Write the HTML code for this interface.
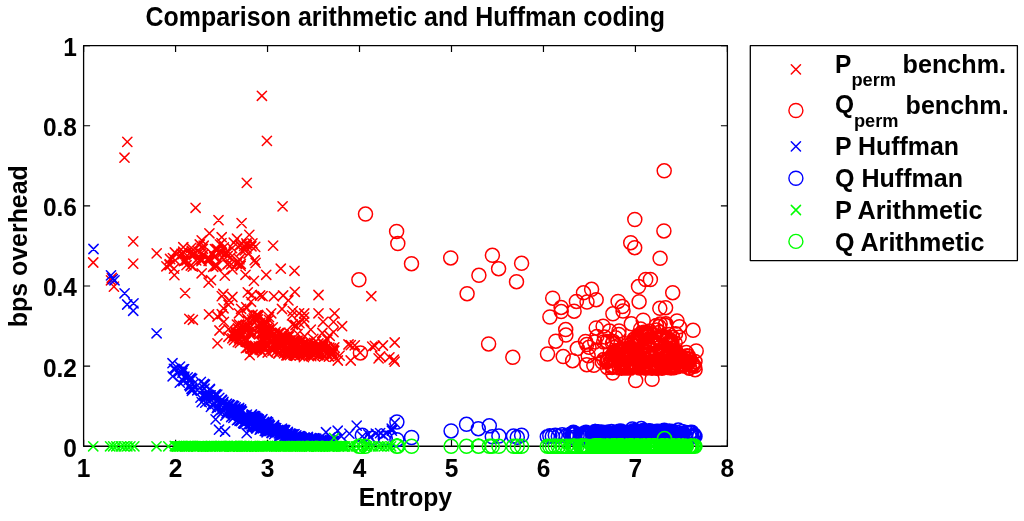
<!DOCTYPE html>
<html><head><meta charset="utf-8"><title>Comparison arithmetic and Huffman coding</title>
<style>html,body{margin:0;padding:0;background:#fff;overflow:hidden}svg{display:block}
text{font-family:'Liberation Sans',Arial,Helvetica,sans-serif;font-weight:bold;font-size:24.5px;fill:#000}</style></head>
<body><svg width="1024" height="521" viewBox="0 0 1024 521">
<rect width="1024" height="521" fill="#fff"/>
<rect x="83.6" y="45.6" width="643.80" height="400.65" fill="none" stroke="#000" stroke-width="1.3" stroke-linejoin="round"/>
<path d="M83.60 446.25V439.75M83.60 45.6V52.1M175.57 446.25V439.75M175.57 45.6V52.1M267.54 446.25V439.75M267.54 45.6V52.1M359.51 446.25V439.75M359.51 45.6V52.1M451.49 446.25V439.75M451.49 45.6V52.1M543.46 446.25V439.75M543.46 45.6V52.1M635.43 446.25V439.75M635.43 45.6V52.1M727.40 446.25V439.75M727.40 45.6V52.1M83.6 446.25H90.1M727.4 446.25H720.9M83.6 366.12H90.1M727.4 366.12H720.9M83.6 285.99H90.1M727.4 285.99H720.9M83.6 205.86H90.1M727.4 205.86H720.9M83.6 125.73H90.1M727.4 125.73H720.9M83.6 45.60H90.1M727.4 45.60H720.9" stroke="#000" stroke-width="1.2" fill="none"/>
<text transform="matrix(1 0 0 1.08 0 -38.16)" x="83.60" y="477.0" text-anchor="middle">1</text>
<text transform="matrix(1 0 0 1.08 0 -38.16)" x="175.57" y="477.0" text-anchor="middle">2</text>
<text transform="matrix(1 0 0 1.08 0 -38.16)" x="267.54" y="477.0" text-anchor="middle">3</text>
<text transform="matrix(1 0 0 1.08 0 -38.16)" x="359.51" y="477.0" text-anchor="middle">4</text>
<text transform="matrix(1 0 0 1.08 0 -38.16)" x="451.49" y="477.0" text-anchor="middle">5</text>
<text transform="matrix(1 0 0 1.08 0 -38.16)" x="543.46" y="477.0" text-anchor="middle">6</text>
<text transform="matrix(1 0 0 1.08 0 -38.16)" x="635.43" y="477.0" text-anchor="middle">7</text>
<text transform="matrix(1 0 0 1.08 0 -38.16)" x="727.40" y="477.0" text-anchor="middle">8</text>
<text transform="matrix(1 0 0 1.08 0 -36.53)" x="77.0" y="456.65" text-anchor="end">0</text>
<text transform="matrix(1 0 0 1.08 0 -30.12)" x="77.0" y="376.52" text-anchor="end">0.2</text>
<text transform="matrix(1 0 0 1.08 0 -23.71)" x="77.0" y="296.39" text-anchor="end">0.4</text>
<text transform="matrix(1 0 0 1.08 0 -17.30)" x="77.0" y="216.26" text-anchor="end">0.6</text>
<text transform="matrix(1 0 0 1.08 0 -10.89)" x="77.0" y="136.13" text-anchor="end">0.8</text>
<text transform="matrix(1 0 0 1.08 0 -4.48)" x="77.0" y="56.0" text-anchor="end">1</text>
<text transform="matrix(1 0 0 1.11 0 -2.82)" x="405.3" y="25.6" text-anchor="middle" textLength="519.5" lengthAdjust="spacingAndGlyphs">Comparison arithmetic and Huffman coding</text>
<text transform="matrix(1 0 0 1.08 0 -40.46)" x="405.4" y="505.7" text-anchor="middle" textLength="93.5" lengthAdjust="spacingAndGlyphs">Entropy</text>
<text transform="translate(26.5 246.2) rotate(-90) scale(1 1.08)" text-anchor="middle" textLength="162" lengthAdjust="spacingAndGlyphs">bps overhead</text>
<rect x="750.3" y="45.7" width="267.1" height="214.9" fill="#fff" stroke="#000" stroke-width="1.3" stroke-linejoin="round"/>
<path d="M791.3 64.8L800.5 74.0M791.3 74.0L800.5 64.8" stroke="#f00" stroke-width="1.5" stroke-linecap="round" fill="none"/>
<circle cx="795.9" cy="110.5" r="7.0" stroke="#f00" stroke-width="1.4" fill="none"/>
<path d="M791.3 141.8L800.5 151.0M791.3 151.0L800.5 141.8" stroke="#00f" stroke-width="1.5" stroke-linecap="round" fill="none"/>
<circle cx="795.9" cy="178.3" r="7.0" stroke="#00f" stroke-width="1.4" fill="none"/>
<path d="M791.3 205.4L800.5 214.6M791.3 214.6L800.5 205.4" stroke="#0f0" stroke-width="1.5" stroke-linecap="round" fill="none"/>
<circle cx="795.9" cy="241.4" r="7.0" stroke="#0f0" stroke-width="1.4" fill="none"/>
<text transform="matrix(1 0 0 1.08 0 -5.86)" x="835.0" y="73.3">P</text><text transform="matrix(1 0 0 1.08 0 -6.85)" x="851.4" y="85.6" textLength="44.6" lengthAdjust="spacingAndGlyphs" style="font-size:17.5px">perm</text><text transform="matrix(1 0 0 1.08 0 -5.81)" x="902.6" y="72.6" textLength="103.5" lengthAdjust="spacingAndGlyphs">benchm.</text>
<text transform="matrix(1 0 0 1.08 0 -9.08)" x="835.0" y="113.5">Q</text><text transform="matrix(1 0 0 1.08 0 -10.16)" x="853.9" y="127.0" textLength="44.6" lengthAdjust="spacingAndGlyphs" style="font-size:17.5px">perm</text><text transform="matrix(1 0 0 1.08 0 -9.13)" x="905.6" y="114.1" textLength="103" lengthAdjust="spacingAndGlyphs">benchm.</text>
<text transform="matrix(1 0 0 1.08 0 -12.42)" x="835.0" y="155.3" textLength="124" lengthAdjust="spacingAndGlyphs">P Huffman</text>
<text transform="matrix(1 0 0 1.08 0 -14.96)" x="835.0" y="187" textLength="128" lengthAdjust="spacingAndGlyphs">Q Huffman</text>
<text transform="matrix(1 0 0 1.08 0 -17.55)" x="835.0" y="219.4" textLength="147.5" lengthAdjust="spacingAndGlyphs">P Arithmetic</text>
<text transform="matrix(1 0 0 1.08 0 -20.05)" x="835.0" y="250.6" textLength="149.5" lengthAdjust="spacingAndGlyphs">Q Arithmetic</text>
<path d="M257.3 91.2l9.2 9.2m0 -9.2l-9.2 9.2M122.7 137.3l9.2 9.2m0 -9.2l-9.2 9.2M119.9 153.1l9.2 9.2m0 -9.2l-9.2 9.2M262.3 136.3l9.2 9.2m0 -9.2l-9.2 9.2M242.2 178.3l9.2 9.2m0 -9.2l-9.2 9.2M191.0 203.2l9.2 9.2m0 -9.2l-9.2 9.2M213.9 215.5l9.2 9.2m0 -9.2l-9.2 9.2M237.0 218.5l9.2 9.2m0 -9.2l-9.2 9.2M278.0 201.8l9.2 9.2m0 -9.2l-9.2 9.2M88.6 257.9l9.2 9.2m0 -9.2l-9.2 9.2M128.6 236.8l9.2 9.2m0 -9.2l-9.2 9.2M128.6 259.0l9.2 9.2m0 -9.2l-9.2 9.2M152.1 248.8l9.2 9.2m0 -9.2l-9.2 9.2M106.4 275.7l9.2 9.2m0 -9.2l-9.2 9.2M109.3 282.0l9.2 9.2m0 -9.2l-9.2 9.2M107.2 273.2l9.2 9.2m0 -9.2l-9.2 9.2M169.8 270.5l9.2 9.2m0 -9.2l-9.2 9.2M180.5 288.5l9.2 9.2m0 -9.2l-9.2 9.2M188.3 315.2l9.2 9.2m0 -9.2l-9.2 9.2M204.4 309.7l9.2 9.2m0 -9.2l-9.2 9.2M204.0 278.0l9.2 9.2m0 -9.2l-9.2 9.2M184.7 314.2l9.2 9.2m0 -9.2l-9.2 9.2M204.8 228.7l9.2 9.2m0 -9.2l-9.2 9.2M244.7 230.3l9.2 9.2m0 -9.2l-9.2 9.2M268.5 241.0l9.2 9.2m0 -9.2l-9.2 9.2M178.7 242.6l9.2 9.2m0 -9.2l-9.2 9.2M170.3 247.9l9.2 9.2m0 -9.2l-9.2 9.2M164.9 260.2l9.2 9.2m0 -9.2l-9.2 9.2M197.1 268.7l9.2 9.2m0 -9.2l-9.2 9.2M206.4 275.6l9.2 9.2m0 -9.2l-9.2 9.2M220.2 271.0l9.2 9.2m0 -9.2l-9.2 9.2M240.9 270.2l9.2 9.2m0 -9.2l-9.2 9.2M249.3 276.3l9.2 9.2m0 -9.2l-9.2 9.2M261.6 270.2l9.2 9.2m0 -9.2l-9.2 9.2M276.2 264.1l9.2 9.2m0 -9.2l-9.2 9.2M250.1 255.6l9.2 9.2m0 -9.2l-9.2 9.2M247.8 238.7l9.2 9.2m0 -9.2l-9.2 9.2M232.4 234.1l9.2 9.2m0 -9.2l-9.2 9.2M217.1 232.6l9.2 9.2m0 -9.2l-9.2 9.2M197.1 235.7l9.2 9.2m0 -9.2l-9.2 9.2M187.2 246.4l9.2 9.2m0 -9.2l-9.2 9.2M175.7 251.0l9.2 9.2m0 -9.2l-9.2 9.2M161.8 261.7l9.2 9.2m0 -9.2l-9.2 9.2M227.8 264.8l9.2 9.2m0 -9.2l-9.2 9.2M211.0 261.7l9.2 9.2m0 -9.2l-9.2 9.2M289.9 266.2l9.2 9.2m0 -9.2l-9.2 9.2M218.7 289.4l9.2 9.2m0 -9.2l-9.2 9.2M227.8 292.4l9.2 9.2m0 -9.2l-9.2 9.2M243.2 287.8l9.2 9.2m0 -9.2l-9.2 9.2M255.5 290.9l9.2 9.2m0 -9.2l-9.2 9.2M269.3 291.7l9.2 9.2m0 -9.2l-9.2 9.2M278.5 290.9l9.2 9.2m0 -9.2l-9.2 9.2M217.2 291.5l9.2 9.2m0 -9.2l-9.2 9.2M247.3 290.4l9.2 9.2m0 -9.2l-9.2 9.2M258.0 291.5l9.2 9.2m0 -9.2l-9.2 9.2M283.8 295.8l9.2 9.2m0 -9.2l-9.2 9.2M290.2 287.2l9.2 9.2m0 -9.2l-9.2 9.2M313.9 290.4l9.2 9.2m0 -9.2l-9.2 9.2M366.7 291.6l9.2 9.2m0 -9.2l-9.2 9.2M212.9 311.9l9.2 9.2m0 -9.2l-9.2 9.2M219.3 317.3l9.2 9.2m0 -9.2l-9.2 9.2M234.4 308.7l9.2 9.2m0 -9.2l-9.2 9.2M266.6 308.7l9.2 9.2m0 -9.2l-9.2 9.2M277.4 304.4l9.2 9.2m0 -9.2l-9.2 9.2M288.1 306.5l9.2 9.2m0 -9.2l-9.2 9.2M294.5 308.7l9.2 9.2m0 -9.2l-9.2 9.2M313.9 308.7l9.2 9.2m0 -9.2l-9.2 9.2M330.0 308.7l9.2 9.2m0 -9.2l-9.2 9.2M337.5 321.6l9.2 9.2m0 -9.2l-9.2 9.2M328.9 317.3l9.2 9.2m0 -9.2l-9.2 9.2M299.5 317.2l9.2 9.2m0 -9.2l-9.2 9.2M318.5 317.2l9.2 9.2m0 -9.2l-9.2 9.2M328.9 327.5l9.2 9.2m0 -9.2l-9.2 9.2M317.7 328.4l9.2 9.2m0 -9.2l-9.2 9.2M212.9 338.8l9.2 9.2m0 -9.2l-9.2 9.2M245.1 350.6l9.2 9.2m0 -9.2l-9.2 9.2M355.5 348.1l9.2 9.2m0 -9.2l-9.2 9.2M350.2 340.7l9.2 9.2m0 -9.2l-9.2 9.2M343.9 339.9l9.2 9.2m0 -9.2l-9.2 9.2M346.2 340.5l9.2 9.2m0 -9.2l-9.2 9.2M367.6 342.0l9.2 9.2m0 -9.2l-9.2 9.2M370.3 341.3l9.2 9.2m0 -9.2l-9.2 9.2M378.3 340.9l9.2 9.2m0 -9.2l-9.2 9.2M390.1 337.9l9.2 9.2m0 -9.2l-9.2 9.2M346.1 355.9l9.2 9.2m0 -9.2l-9.2 9.2M374.0 353.8l9.2 9.2m0 -9.2l-9.2 9.2M384.8 352.7l9.2 9.2m0 -9.2l-9.2 9.2M390.1 357.0l9.2 9.2m0 -9.2l-9.2 9.2M333.2 355.9l9.2 9.2m0 -9.2l-9.2 9.2M375.5 351.7l9.2 9.2m0 -9.2l-9.2 9.2M389.3 355.1l9.2 9.2m0 -9.2l-9.2 9.2M168.3 253.5l9.2 9.2m0 -9.2l-9.2 9.2M171.9 249.8l9.2 9.2m0 -9.2l-9.2 9.2M170.6 255.7l9.2 9.2m0 -9.2l-9.2 9.2M165.3 260.5l9.2 9.2m0 -9.2l-9.2 9.2M165.1 259.6l9.2 9.2m0 -9.2l-9.2 9.2M165.5 254.4l9.2 9.2m0 -9.2l-9.2 9.2M169.4 264.0l9.2 9.2m0 -9.2l-9.2 9.2M178.2 249.4l9.2 9.2m0 -9.2l-9.2 9.2M188.2 262.0l9.2 9.2m0 -9.2l-9.2 9.2M187.2 250.3l9.2 9.2m0 -9.2l-9.2 9.2M195.2 239.9l9.2 9.2m0 -9.2l-9.2 9.2M192.9 246.2l9.2 9.2m0 -9.2l-9.2 9.2M178.6 247.1l9.2 9.2m0 -9.2l-9.2 9.2M181.9 260.6l9.2 9.2m0 -9.2l-9.2 9.2M179.3 256.4l9.2 9.2m0 -9.2l-9.2 9.2M188.5 249.4l9.2 9.2m0 -9.2l-9.2 9.2M186.7 243.2l9.2 9.2m0 -9.2l-9.2 9.2M176.9 249.4l9.2 9.2m0 -9.2l-9.2 9.2M189.3 250.4l9.2 9.2m0 -9.2l-9.2 9.2M182.0 255.8l9.2 9.2m0 -9.2l-9.2 9.2M184.8 248.9l9.2 9.2m0 -9.2l-9.2 9.2M191.6 255.8l9.2 9.2m0 -9.2l-9.2 9.2M180.6 255.9l9.2 9.2m0 -9.2l-9.2 9.2M186.2 260.9l9.2 9.2m0 -9.2l-9.2 9.2M210.3 244.5l9.2 9.2m0 -9.2l-9.2 9.2M215.3 239.8l9.2 9.2m0 -9.2l-9.2 9.2M204.1 256.2l9.2 9.2m0 -9.2l-9.2 9.2M198.7 249.9l9.2 9.2m0 -9.2l-9.2 9.2M196.5 254.1l9.2 9.2m0 -9.2l-9.2 9.2M211.0 251.7l9.2 9.2m0 -9.2l-9.2 9.2M213.2 245.0l9.2 9.2m0 -9.2l-9.2 9.2M209.6 252.2l9.2 9.2m0 -9.2l-9.2 9.2M207.3 248.8l9.2 9.2m0 -9.2l-9.2 9.2M212.5 261.1l9.2 9.2m0 -9.2l-9.2 9.2M205.2 254.0l9.2 9.2m0 -9.2l-9.2 9.2M196.9 254.8l9.2 9.2m0 -9.2l-9.2 9.2M208.6 262.2l9.2 9.2m0 -9.2l-9.2 9.2M212.1 244.3l9.2 9.2m0 -9.2l-9.2 9.2M203.4 254.1l9.2 9.2m0 -9.2l-9.2 9.2M196.2 249.3l9.2 9.2m0 -9.2l-9.2 9.2M199.1 241.1l9.2 9.2m0 -9.2l-9.2 9.2M196.9 256.4l9.2 9.2m0 -9.2l-9.2 9.2M198.3 244.2l9.2 9.2m0 -9.2l-9.2 9.2M223.5 259.4l9.2 9.2m0 -9.2l-9.2 9.2M217.3 248.4l9.2 9.2m0 -9.2l-9.2 9.2M226.7 259.7l9.2 9.2m0 -9.2l-9.2 9.2M232.1 259.2l9.2 9.2m0 -9.2l-9.2 9.2M221.3 247.5l9.2 9.2m0 -9.2l-9.2 9.2M222.9 259.7l9.2 9.2m0 -9.2l-9.2 9.2M234.9 240.6l9.2 9.2m0 -9.2l-9.2 9.2M219.2 242.7l9.2 9.2m0 -9.2l-9.2 9.2M220.4 249.3l9.2 9.2m0 -9.2l-9.2 9.2M227.5 243.5l9.2 9.2m0 -9.2l-9.2 9.2M215.8 247.6l9.2 9.2m0 -9.2l-9.2 9.2M223.1 251.4l9.2 9.2m0 -9.2l-9.2 9.2M234.8 254.7l9.2 9.2m0 -9.2l-9.2 9.2M226.0 252.8l9.2 9.2m0 -9.2l-9.2 9.2M229.2 238.1l9.2 9.2m0 -9.2l-9.2 9.2M233.7 257.0l9.2 9.2m0 -9.2l-9.2 9.2M233.2 257.4l9.2 9.2m0 -9.2l-9.2 9.2M223.5 247.1l9.2 9.2m0 -9.2l-9.2 9.2M217.8 253.2l9.2 9.2m0 -9.2l-9.2 9.2M216.9 238.5l9.2 9.2m0 -9.2l-9.2 9.2M239.5 241.3l9.2 9.2m0 -9.2l-9.2 9.2M241.8 238.9l9.2 9.2m0 -9.2l-9.2 9.2M235.7 240.6l9.2 9.2m0 -9.2l-9.2 9.2M237.5 246.2l9.2 9.2m0 -9.2l-9.2 9.2M236.2 259.3l9.2 9.2m0 -9.2l-9.2 9.2M246.8 241.7l9.2 9.2m0 -9.2l-9.2 9.2M240.2 245.8l9.2 9.2m0 -9.2l-9.2 9.2M242.3 240.6l9.2 9.2m0 -9.2l-9.2 9.2M251.0 258.3l9.2 9.2m0 -9.2l-9.2 9.2M244.1 248.9l9.2 9.2m0 -9.2l-9.2 9.2M237.2 239.5l9.2 9.2m0 -9.2l-9.2 9.2M241.9 243.9l9.2 9.2m0 -9.2l-9.2 9.2M250.6 242.3l9.2 9.2m0 -9.2l-9.2 9.2M236.1 261.3l9.2 9.2m0 -9.2l-9.2 9.2M223.9 300.3l9.2 9.2m0 -9.2l-9.2 9.2M224.3 295.7l9.2 9.2m0 -9.2l-9.2 9.2M223.9 332.2l9.2 9.2m0 -9.2l-9.2 9.2M232.3 320.0l9.2 9.2m0 -9.2l-9.2 9.2M217.2 309.6l9.2 9.2m0 -9.2l-9.2 9.2M214.9 325.9l9.2 9.2m0 -9.2l-9.2 9.2M224.0 324.6l9.2 9.2m0 -9.2l-9.2 9.2M218.9 303.7l9.2 9.2m0 -9.2l-9.2 9.2M260.0 332.6l9.2 9.2m0 -9.2l-9.2 9.2M261.3 326.7l9.2 9.2m0 -9.2l-9.2 9.2M260.2 324.4l9.2 9.2m0 -9.2l-9.2 9.2M242.5 314.0l9.2 9.2m0 -9.2l-9.2 9.2M246.4 297.2l9.2 9.2m0 -9.2l-9.2 9.2M236.5 304.2l9.2 9.2m0 -9.2l-9.2 9.2M243.5 320.4l9.2 9.2m0 -9.2l-9.2 9.2M264.4 315.2l9.2 9.2m0 -9.2l-9.2 9.2M263.8 333.1l9.2 9.2m0 -9.2l-9.2 9.2M264.4 312.5l9.2 9.2m0 -9.2l-9.2 9.2M242.3 303.4l9.2 9.2m0 -9.2l-9.2 9.2M241.6 302.5l9.2 9.2m0 -9.2l-9.2 9.2M284.4 332.0l9.2 9.2m0 -9.2l-9.2 9.2M290.9 320.4l9.2 9.2m0 -9.2l-9.2 9.2M285.3 329.0l9.2 9.2m0 -9.2l-9.2 9.2M268.2 322.8l9.2 9.2m0 -9.2l-9.2 9.2M293.0 329.3l9.2 9.2m0 -9.2l-9.2 9.2M288.2 319.9l9.2 9.2m0 -9.2l-9.2 9.2M271.1 327.3l9.2 9.2m0 -9.2l-9.2 9.2M275.7 328.1l9.2 9.2m0 -9.2l-9.2 9.2M294.8 318.6l9.2 9.2m0 -9.2l-9.2 9.2M277.7 332.9l9.2 9.2m0 -9.2l-9.2 9.2M287.4 310.8l9.2 9.2m0 -9.2l-9.2 9.2M299.5 312.7l9.2 9.2m0 -9.2l-9.2 9.2M322.8 335.0l9.2 9.2m0 -9.2l-9.2 9.2M300.1 331.6l9.2 9.2m0 -9.2l-9.2 9.2M325.1 331.3l9.2 9.2m0 -9.2l-9.2 9.2M306.2 325.0l9.2 9.2m0 -9.2l-9.2 9.2M299.6 308.9l9.2 9.2m0 -9.2l-9.2 9.2M324.8 331.1l9.2 9.2m0 -9.2l-9.2 9.2M311.5 336.5l9.2 9.2m0 -9.2l-9.2 9.2M308.7 334.3l9.2 9.2m0 -9.2l-9.2 9.2M238.4 321.4l9.2 9.2m0 -9.2l-9.2 9.2M231.0 327.1l9.2 9.2m0 -9.2l-9.2 9.2M230.8 331.5l9.2 9.2m0 -9.2l-9.2 9.2M231.1 329.0l9.2 9.2m0 -9.2l-9.2 9.2M229.4 335.6l9.2 9.2m0 -9.2l-9.2 9.2M232.3 329.3l9.2 9.2m0 -9.2l-9.2 9.2M235.3 338.3l9.2 9.2m0 -9.2l-9.2 9.2M233.2 337.6l9.2 9.2m0 -9.2l-9.2 9.2M234.2 330.3l9.2 9.2m0 -9.2l-9.2 9.2M234.5 319.8l9.2 9.2m0 -9.2l-9.2 9.2M233.4 323.9l9.2 9.2m0 -9.2l-9.2 9.2M227.8 333.7l9.2 9.2m0 -9.2l-9.2 9.2M229.9 330.0l9.2 9.2m0 -9.2l-9.2 9.2M237.1 330.6l9.2 9.2m0 -9.2l-9.2 9.2M231.9 330.4l9.2 9.2m0 -9.2l-9.2 9.2M234.9 335.6l9.2 9.2m0 -9.2l-9.2 9.2M229.1 331.2l9.2 9.2m0 -9.2l-9.2 9.2M230.9 326.9l9.2 9.2m0 -9.2l-9.2 9.2M237.7 329.4l9.2 9.2m0 -9.2l-9.2 9.2M235.0 335.1l9.2 9.2m0 -9.2l-9.2 9.2M239.6 327.3l9.2 9.2m0 -9.2l-9.2 9.2M235.7 329.6l9.2 9.2m0 -9.2l-9.2 9.2M234.4 333.6l9.2 9.2m0 -9.2l-9.2 9.2M245.2 329.4l9.2 9.2m0 -9.2l-9.2 9.2M245.5 343.6l9.2 9.2m0 -9.2l-9.2 9.2M247.7 341.9l9.2 9.2m0 -9.2l-9.2 9.2M250.1 318.3l9.2 9.2m0 -9.2l-9.2 9.2M246.3 343.9l9.2 9.2m0 -9.2l-9.2 9.2M249.1 313.9l9.2 9.2m0 -9.2l-9.2 9.2M241.9 326.8l9.2 9.2m0 -9.2l-9.2 9.2M241.4 320.7l9.2 9.2m0 -9.2l-9.2 9.2M241.4 333.8l9.2 9.2m0 -9.2l-9.2 9.2M248.5 342.9l9.2 9.2m0 -9.2l-9.2 9.2M242.2 335.4l9.2 9.2m0 -9.2l-9.2 9.2M247.3 315.0l9.2 9.2m0 -9.2l-9.2 9.2M249.5 346.0l9.2 9.2m0 -9.2l-9.2 9.2M242.9 343.0l9.2 9.2m0 -9.2l-9.2 9.2M244.7 327.9l9.2 9.2m0 -9.2l-9.2 9.2M250.6 341.0l9.2 9.2m0 -9.2l-9.2 9.2M242.3 326.4l9.2 9.2m0 -9.2l-9.2 9.2M245.9 322.5l9.2 9.2m0 -9.2l-9.2 9.2M242.7 322.7l9.2 9.2m0 -9.2l-9.2 9.2M247.9 310.1l9.2 9.2m0 -9.2l-9.2 9.2M246.2 326.0l9.2 9.2m0 -9.2l-9.2 9.2M240.9 323.6l9.2 9.2m0 -9.2l-9.2 9.2M246.9 328.5l9.2 9.2m0 -9.2l-9.2 9.2M241.3 343.5l9.2 9.2m0 -9.2l-9.2 9.2M248.6 345.8l9.2 9.2m0 -9.2l-9.2 9.2M241.7 321.3l9.2 9.2m0 -9.2l-9.2 9.2M241.1 337.1l9.2 9.2m0 -9.2l-9.2 9.2M243.4 316.3l9.2 9.2m0 -9.2l-9.2 9.2M254.9 344.8l9.2 9.2m0 -9.2l-9.2 9.2M258.9 323.1l9.2 9.2m0 -9.2l-9.2 9.2M252.2 344.7l9.2 9.2m0 -9.2l-9.2 9.2M256.4 337.5l9.2 9.2m0 -9.2l-9.2 9.2M251.6 310.7l9.2 9.2m0 -9.2l-9.2 9.2M257.6 328.2l9.2 9.2m0 -9.2l-9.2 9.2M251.4 345.3l9.2 9.2m0 -9.2l-9.2 9.2M257.0 341.3l9.2 9.2m0 -9.2l-9.2 9.2M251.5 342.1l9.2 9.2m0 -9.2l-9.2 9.2M251.4 342.3l9.2 9.2m0 -9.2l-9.2 9.2M255.2 323.8l9.2 9.2m0 -9.2l-9.2 9.2M256.2 345.6l9.2 9.2m0 -9.2l-9.2 9.2M253.4 314.8l9.2 9.2m0 -9.2l-9.2 9.2M256.0 320.6l9.2 9.2m0 -9.2l-9.2 9.2M251.8 314.9l9.2 9.2m0 -9.2l-9.2 9.2M251.2 316.1l9.2 9.2m0 -9.2l-9.2 9.2M253.8 321.7l9.2 9.2m0 -9.2l-9.2 9.2M258.3 323.8l9.2 9.2m0 -9.2l-9.2 9.2M255.7 318.2l9.2 9.2m0 -9.2l-9.2 9.2M254.2 311.2l9.2 9.2m0 -9.2l-9.2 9.2M253.2 310.3l9.2 9.2m0 -9.2l-9.2 9.2M258.0 332.8l9.2 9.2m0 -9.2l-9.2 9.2M252.6 327.6l9.2 9.2m0 -9.2l-9.2 9.2M260.0 318.7l9.2 9.2m0 -9.2l-9.2 9.2M258.9 329.1l9.2 9.2m0 -9.2l-9.2 9.2M255.7 342.2l9.2 9.2m0 -9.2l-9.2 9.2M254.6 329.7l9.2 9.2m0 -9.2l-9.2 9.2M257.6 347.8l9.2 9.2m0 -9.2l-9.2 9.2M254.1 341.7l9.2 9.2m0 -9.2l-9.2 9.2M257.8 335.6l9.2 9.2m0 -9.2l-9.2 9.2M264.7 330.0l9.2 9.2m0 -9.2l-9.2 9.2M261.2 320.5l9.2 9.2m0 -9.2l-9.2 9.2M261.4 340.4l9.2 9.2m0 -9.2l-9.2 9.2M263.3 323.3l9.2 9.2m0 -9.2l-9.2 9.2M261.5 343.7l9.2 9.2m0 -9.2l-9.2 9.2M269.4 341.3l9.2 9.2m0 -9.2l-9.2 9.2M263.5 325.9l9.2 9.2m0 -9.2l-9.2 9.2M263.6 332.6l9.2 9.2m0 -9.2l-9.2 9.2M262.3 331.4l9.2 9.2m0 -9.2l-9.2 9.2M263.3 347.8l9.2 9.2m0 -9.2l-9.2 9.2M270.4 338.7l9.2 9.2m0 -9.2l-9.2 9.2M263.1 347.9l9.2 9.2m0 -9.2l-9.2 9.2M263.8 329.6l9.2 9.2m0 -9.2l-9.2 9.2M260.7 328.3l9.2 9.2m0 -9.2l-9.2 9.2M265.4 334.9l9.2 9.2m0 -9.2l-9.2 9.2M262.7 333.5l9.2 9.2m0 -9.2l-9.2 9.2M260.7 324.5l9.2 9.2m0 -9.2l-9.2 9.2M261.6 329.5l9.2 9.2m0 -9.2l-9.2 9.2M261.1 316.9l9.2 9.2m0 -9.2l-9.2 9.2M263.7 325.8l9.2 9.2m0 -9.2l-9.2 9.2M266.6 336.2l9.2 9.2m0 -9.2l-9.2 9.2M268.2 340.5l9.2 9.2m0 -9.2l-9.2 9.2M267.9 346.2l9.2 9.2m0 -9.2l-9.2 9.2M264.6 329.2l9.2 9.2m0 -9.2l-9.2 9.2M270.5 329.2l9.2 9.2m0 -9.2l-9.2 9.2M267.9 340.0l9.2 9.2m0 -9.2l-9.2 9.2M261.1 343.4l9.2 9.2m0 -9.2l-9.2 9.2M269.6 340.3l9.2 9.2m0 -9.2l-9.2 9.2M268.0 344.5l9.2 9.2m0 -9.2l-9.2 9.2M262.1 333.7l9.2 9.2m0 -9.2l-9.2 9.2M278.3 347.2l9.2 9.2m0 -9.2l-9.2 9.2M282.8 348.0l9.2 9.2m0 -9.2l-9.2 9.2M279.5 348.7l9.2 9.2m0 -9.2l-9.2 9.2M280.9 345.0l9.2 9.2m0 -9.2l-9.2 9.2M274.1 328.2l9.2 9.2m0 -9.2l-9.2 9.2M272.7 335.1l9.2 9.2m0 -9.2l-9.2 9.2M272.3 346.1l9.2 9.2m0 -9.2l-9.2 9.2M279.1 343.1l9.2 9.2m0 -9.2l-9.2 9.2M280.1 344.5l9.2 9.2m0 -9.2l-9.2 9.2M278.0 329.7l9.2 9.2m0 -9.2l-9.2 9.2M282.7 346.5l9.2 9.2m0 -9.2l-9.2 9.2M278.2 341.0l9.2 9.2m0 -9.2l-9.2 9.2M280.6 332.3l9.2 9.2m0 -9.2l-9.2 9.2M281.8 336.5l9.2 9.2m0 -9.2l-9.2 9.2M271.8 332.6l9.2 9.2m0 -9.2l-9.2 9.2M281.6 335.6l9.2 9.2m0 -9.2l-9.2 9.2M281.8 350.7l9.2 9.2m0 -9.2l-9.2 9.2M278.1 337.7l9.2 9.2m0 -9.2l-9.2 9.2M277.9 344.0l9.2 9.2m0 -9.2l-9.2 9.2M282.2 343.8l9.2 9.2m0 -9.2l-9.2 9.2M280.3 332.4l9.2 9.2m0 -9.2l-9.2 9.2M272.9 332.7l9.2 9.2m0 -9.2l-9.2 9.2M281.8 337.6l9.2 9.2m0 -9.2l-9.2 9.2M279.2 330.5l9.2 9.2m0 -9.2l-9.2 9.2M271.6 332.5l9.2 9.2m0 -9.2l-9.2 9.2M280.8 344.9l9.2 9.2m0 -9.2l-9.2 9.2M280.8 336.9l9.2 9.2m0 -9.2l-9.2 9.2M278.4 339.5l9.2 9.2m0 -9.2l-9.2 9.2M277.7 331.9l9.2 9.2m0 -9.2l-9.2 9.2M284.1 336.6l9.2 9.2m0 -9.2l-9.2 9.2M285.4 350.5l9.2 9.2m0 -9.2l-9.2 9.2M271.0 336.8l9.2 9.2m0 -9.2l-9.2 9.2M283.0 350.7l9.2 9.2m0 -9.2l-9.2 9.2M277.4 335.0l9.2 9.2m0 -9.2l-9.2 9.2M273.8 348.9l9.2 9.2m0 -9.2l-9.2 9.2M273.9 340.6l9.2 9.2m0 -9.2l-9.2 9.2M272.8 339.0l9.2 9.2m0 -9.2l-9.2 9.2M285.0 335.7l9.2 9.2m0 -9.2l-9.2 9.2M283.0 342.0l9.2 9.2m0 -9.2l-9.2 9.2M284.0 345.9l9.2 9.2m0 -9.2l-9.2 9.2M274.2 347.8l9.2 9.2m0 -9.2l-9.2 9.2M293.0 336.1l9.2 9.2m0 -9.2l-9.2 9.2M285.8 342.6l9.2 9.2m0 -9.2l-9.2 9.2M292.5 340.5l9.2 9.2m0 -9.2l-9.2 9.2M287.8 340.3l9.2 9.2m0 -9.2l-9.2 9.2M290.4 349.3l9.2 9.2m0 -9.2l-9.2 9.2M285.7 347.2l9.2 9.2m0 -9.2l-9.2 9.2M298.3 338.9l9.2 9.2m0 -9.2l-9.2 9.2M299.6 348.3l9.2 9.2m0 -9.2l-9.2 9.2M299.2 341.7l9.2 9.2m0 -9.2l-9.2 9.2M291.3 341.8l9.2 9.2m0 -9.2l-9.2 9.2M300.7 346.5l9.2 9.2m0 -9.2l-9.2 9.2M291.1 342.4l9.2 9.2m0 -9.2l-9.2 9.2M289.8 335.6l9.2 9.2m0 -9.2l-9.2 9.2M287.2 348.9l9.2 9.2m0 -9.2l-9.2 9.2M290.0 350.9l9.2 9.2m0 -9.2l-9.2 9.2M289.4 339.3l9.2 9.2m0 -9.2l-9.2 9.2M293.4 338.9l9.2 9.2m0 -9.2l-9.2 9.2M291.3 351.3l9.2 9.2m0 -9.2l-9.2 9.2M299.0 349.7l9.2 9.2m0 -9.2l-9.2 9.2M295.2 350.9l9.2 9.2m0 -9.2l-9.2 9.2M299.8 345.8l9.2 9.2m0 -9.2l-9.2 9.2M296.5 337.4l9.2 9.2m0 -9.2l-9.2 9.2M296.7 343.8l9.2 9.2m0 -9.2l-9.2 9.2M297.0 346.9l9.2 9.2m0 -9.2l-9.2 9.2M290.0 335.7l9.2 9.2m0 -9.2l-9.2 9.2M299.6 339.3l9.2 9.2m0 -9.2l-9.2 9.2M292.8 341.3l9.2 9.2m0 -9.2l-9.2 9.2M290.2 347.5l9.2 9.2m0 -9.2l-9.2 9.2M300.3 341.5l9.2 9.2m0 -9.2l-9.2 9.2M295.5 341.1l9.2 9.2m0 -9.2l-9.2 9.2M294.1 342.4l9.2 9.2m0 -9.2l-9.2 9.2M288.2 337.2l9.2 9.2m0 -9.2l-9.2 9.2M288.8 350.3l9.2 9.2m0 -9.2l-9.2 9.2M293.2 339.3l9.2 9.2m0 -9.2l-9.2 9.2M299.3 352.6l9.2 9.2m0 -9.2l-9.2 9.2M292.4 337.8l9.2 9.2m0 -9.2l-9.2 9.2M288.6 336.1l9.2 9.2m0 -9.2l-9.2 9.2M290.8 336.6l9.2 9.2m0 -9.2l-9.2 9.2M304.3 341.8l9.2 9.2m0 -9.2l-9.2 9.2M309.2 351.1l9.2 9.2m0 -9.2l-9.2 9.2M311.9 344.3l9.2 9.2m0 -9.2l-9.2 9.2M306.9 345.8l9.2 9.2m0 -9.2l-9.2 9.2M306.4 343.0l9.2 9.2m0 -9.2l-9.2 9.2M301.6 341.9l9.2 9.2m0 -9.2l-9.2 9.2M315.2 340.4l9.2 9.2m0 -9.2l-9.2 9.2M308.3 347.3l9.2 9.2m0 -9.2l-9.2 9.2M313.6 341.6l9.2 9.2m0 -9.2l-9.2 9.2M304.8 341.6l9.2 9.2m0 -9.2l-9.2 9.2M306.7 344.6l9.2 9.2m0 -9.2l-9.2 9.2M315.0 350.6l9.2 9.2m0 -9.2l-9.2 9.2M313.8 338.9l9.2 9.2m0 -9.2l-9.2 9.2M301.2 348.4l9.2 9.2m0 -9.2l-9.2 9.2M314.1 345.3l9.2 9.2m0 -9.2l-9.2 9.2M309.5 338.3l9.2 9.2m0 -9.2l-9.2 9.2M306.6 351.6l9.2 9.2m0 -9.2l-9.2 9.2M313.1 350.7l9.2 9.2m0 -9.2l-9.2 9.2M315.3 342.2l9.2 9.2m0 -9.2l-9.2 9.2M302.3 340.1l9.2 9.2m0 -9.2l-9.2 9.2M308.5 348.1l9.2 9.2m0 -9.2l-9.2 9.2M314.8 348.8l9.2 9.2m0 -9.2l-9.2 9.2M310.4 349.3l9.2 9.2m0 -9.2l-9.2 9.2M307.6 346.2l9.2 9.2m0 -9.2l-9.2 9.2M301.3 349.4l9.2 9.2m0 -9.2l-9.2 9.2M304.2 351.5l9.2 9.2m0 -9.2l-9.2 9.2M310.4 342.7l9.2 9.2m0 -9.2l-9.2 9.2M302.6 341.6l9.2 9.2m0 -9.2l-9.2 9.2M310.2 348.4l9.2 9.2m0 -9.2l-9.2 9.2M302.4 338.9l9.2 9.2m0 -9.2l-9.2 9.2M308.6 346.7l9.2 9.2m0 -9.2l-9.2 9.2M306.5 341.4l9.2 9.2m0 -9.2l-9.2 9.2M309.7 338.5l9.2 9.2m0 -9.2l-9.2 9.2M305.2 344.8l9.2 9.2m0 -9.2l-9.2 9.2M328.2 348.7l9.2 9.2m0 -9.2l-9.2 9.2M327.2 346.7l9.2 9.2m0 -9.2l-9.2 9.2M318.8 342.7l9.2 9.2m0 -9.2l-9.2 9.2M328.2 349.4l9.2 9.2m0 -9.2l-9.2 9.2M319.7 339.9l9.2 9.2m0 -9.2l-9.2 9.2M322.2 348.6l9.2 9.2m0 -9.2l-9.2 9.2M321.2 343.2l9.2 9.2m0 -9.2l-9.2 9.2M324.4 351.8l9.2 9.2m0 -9.2l-9.2 9.2M318.6 339.8l9.2 9.2m0 -9.2l-9.2 9.2M320.1 345.2l9.2 9.2m0 -9.2l-9.2 9.2M324.6 343.1l9.2 9.2m0 -9.2l-9.2 9.2M326.1 349.7l9.2 9.2m0 -9.2l-9.2 9.2M322.3 342.8l9.2 9.2m0 -9.2l-9.2 9.2M328.3 345.1l9.2 9.2m0 -9.2l-9.2 9.2M326.4 343.8l9.2 9.2m0 -9.2l-9.2 9.2M318.6 349.5l9.2 9.2m0 -9.2l-9.2 9.2M319.5 352.1l9.2 9.2m0 -9.2l-9.2 9.2M322.1 342.5l9.2 9.2m0 -9.2l-9.2 9.2M318.6 344.9l9.2 9.2m0 -9.2l-9.2 9.2M324.3 352.1l9.2 9.2m0 -9.2l-9.2 9.2M329.7 346.3l9.2 9.2m0 -9.2l-9.2 9.2M330.2 352.2l9.2 9.2m0 -9.2l-9.2 9.2M329.7 342.8l9.2 9.2m0 -9.2l-9.2 9.2M329.1 346.1l9.2 9.2m0 -9.2l-9.2 9.2M335.0 351.0l9.2 9.2m0 -9.2l-9.2 9.2" stroke="#f00" stroke-width="1.5" stroke-linecap="round" fill="none"/>
<path d="M358.5 214.1a7.0 7.0 0 1 0 14.0 0a7.0 7.0 0 1 0 -14.0 0M389.6 231.4a7.0 7.0 0 1 0 14.0 0a7.0 7.0 0 1 0 -14.0 0M390.8 243.5a7.0 7.0 0 1 0 14.0 0a7.0 7.0 0 1 0 -14.0 0M404.5 263.7a7.0 7.0 0 1 0 14.0 0a7.0 7.0 0 1 0 -14.0 0M351.9 279.8a7.0 7.0 0 1 0 14.0 0a7.0 7.0 0 1 0 -14.0 0M353.4 352.9a7.0 7.0 0 1 0 14.0 0a7.0 7.0 0 1 0 -14.0 0M443.7 257.9a7.0 7.0 0 1 0 14.0 0a7.0 7.0 0 1 0 -14.0 0M485.4 255.3a7.0 7.0 0 1 0 14.0 0a7.0 7.0 0 1 0 -14.0 0M491.6 268.7a7.0 7.0 0 1 0 14.0 0a7.0 7.0 0 1 0 -14.0 0M471.9 275.3a7.0 7.0 0 1 0 14.0 0a7.0 7.0 0 1 0 -14.0 0M514.6 263.3a7.0 7.0 0 1 0 14.0 0a7.0 7.0 0 1 0 -14.0 0M509.5 281.7a7.0 7.0 0 1 0 14.0 0a7.0 7.0 0 1 0 -14.0 0M460.1 293.7a7.0 7.0 0 1 0 14.0 0a7.0 7.0 0 1 0 -14.0 0M481.6 343.9a7.0 7.0 0 1 0 14.0 0a7.0 7.0 0 1 0 -14.0 0M505.8 357.3a7.0 7.0 0 1 0 14.0 0a7.0 7.0 0 1 0 -14.0 0M657.2 170.8a7.0 7.0 0 1 0 14.0 0a7.0 7.0 0 1 0 -14.0 0M627.8 219.5a7.0 7.0 0 1 0 14.0 0a7.0 7.0 0 1 0 -14.0 0M656.9 230.9a7.0 7.0 0 1 0 14.0 0a7.0 7.0 0 1 0 -14.0 0M623.7 242.7a7.0 7.0 0 1 0 14.0 0a7.0 7.0 0 1 0 -14.0 0M627.7 247.7a7.0 7.0 0 1 0 14.0 0a7.0 7.0 0 1 0 -14.0 0M653.1 258.3a7.0 7.0 0 1 0 14.0 0a7.0 7.0 0 1 0 -14.0 0M643.4 279.5a7.0 7.0 0 1 0 14.0 0a7.0 7.0 0 1 0 -14.0 0M631.5 286.6a7.0 7.0 0 1 0 14.0 0a7.0 7.0 0 1 0 -14.0 0M632.1 301.7a7.0 7.0 0 1 0 14.0 0a7.0 7.0 0 1 0 -14.0 0M665.7 292.7a7.0 7.0 0 1 0 14.0 0a7.0 7.0 0 1 0 -14.0 0M611.1 301.4a7.0 7.0 0 1 0 14.0 0a7.0 7.0 0 1 0 -14.0 0M615.4 306.6a7.0 7.0 0 1 0 14.0 0a7.0 7.0 0 1 0 -14.0 0M652.8 308.3a7.0 7.0 0 1 0 14.0 0a7.0 7.0 0 1 0 -14.0 0M658.6 307.7a7.0 7.0 0 1 0 14.0 0a7.0 7.0 0 1 0 -14.0 0M545.7 298.2a7.0 7.0 0 1 0 14.0 0a7.0 7.0 0 1 0 -14.0 0M554.1 307.4a7.0 7.0 0 1 0 14.0 0a7.0 7.0 0 1 0 -14.0 0M542.9 317.0a7.0 7.0 0 1 0 14.0 0a7.0 7.0 0 1 0 -14.0 0M567.1 311.2a7.0 7.0 0 1 0 14.0 0a7.0 7.0 0 1 0 -14.0 0M569.4 301.4a7.0 7.0 0 1 0 14.0 0a7.0 7.0 0 1 0 -14.0 0M576.5 292.8a7.0 7.0 0 1 0 14.0 0a7.0 7.0 0 1 0 -14.0 0M584.6 289.3a7.0 7.0 0 1 0 14.0 0a7.0 7.0 0 1 0 -14.0 0M589.2 299.7a7.0 7.0 0 1 0 14.0 0a7.0 7.0 0 1 0 -14.0 0M580.0 302.0a7.0 7.0 0 1 0 14.0 0a7.0 7.0 0 1 0 -14.0 0M605.9 313.8a7.0 7.0 0 1 0 14.0 0a7.0 7.0 0 1 0 -14.0 0M638.7 279.5a7.0 7.0 0 1 0 14.0 0a7.0 7.0 0 1 0 -14.0 0M589.2 327.9a7.0 7.0 0 1 0 14.0 0a7.0 7.0 0 1 0 -14.0 0M596.1 326.2a7.0 7.0 0 1 0 14.0 0a7.0 7.0 0 1 0 -14.0 0M558.7 329.6a7.0 7.0 0 1 0 14.0 0a7.0 7.0 0 1 0 -14.0 0M554.2 311.6a7.0 7.0 0 1 0 14.0 0a7.0 7.0 0 1 0 -14.0 0M616.0 311.0a7.0 7.0 0 1 0 14.0 0a7.0 7.0 0 1 0 -14.0 0M558.9 335.1a7.0 7.0 0 1 0 14.0 0a7.0 7.0 0 1 0 -14.0 0M548.8 341.2a7.0 7.0 0 1 0 14.0 0a7.0 7.0 0 1 0 -14.0 0M540.5 354.0a7.0 7.0 0 1 0 14.0 0a7.0 7.0 0 1 0 -14.0 0M556.2 356.6a7.0 7.0 0 1 0 14.0 0a7.0 7.0 0 1 0 -14.0 0M565.6 360.7a7.0 7.0 0 1 0 14.0 0a7.0 7.0 0 1 0 -14.0 0M570.3 348.6a7.0 7.0 0 1 0 14.0 0a7.0 7.0 0 1 0 -14.0 0M579.7 344.6a7.0 7.0 0 1 0 14.0 0a7.0 7.0 0 1 0 -14.0 0M602.5 331.1a7.0 7.0 0 1 0 14.0 0a7.0 7.0 0 1 0 -14.0 0M579.7 364.7a7.0 7.0 0 1 0 14.0 0a7.0 7.0 0 1 0 -14.0 0M587.8 341.9a7.0 7.0 0 1 0 14.0 0a7.0 7.0 0 1 0 -14.0 0M686.1 330.3a7.0 7.0 0 1 0 14.0 0a7.0 7.0 0 1 0 -14.0 0M689.2 351.0a7.0 7.0 0 1 0 14.0 0a7.0 7.0 0 1 0 -14.0 0M670.0 321.0a7.0 7.0 0 1 0 14.0 0a7.0 7.0 0 1 0 -14.0 0M628.7 380.6a7.0 7.0 0 1 0 14.0 0a7.0 7.0 0 1 0 -14.0 0M645.1 379.3a7.0 7.0 0 1 0 14.0 0a7.0 7.0 0 1 0 -14.0 0M605.7 373.1a7.0 7.0 0 1 0 14.0 0a7.0 7.0 0 1 0 -14.0 0M688.1 369.7a7.0 7.0 0 1 0 14.0 0a7.0 7.0 0 1 0 -14.0 0M600.3 359.7a7.0 7.0 0 1 0 14.0 0a7.0 7.0 0 1 0 -14.0 0M600.0 361.0a7.0 7.0 0 1 0 14.0 0a7.0 7.0 0 1 0 -14.0 0M600.3 367.4a7.0 7.0 0 1 0 14.0 0a7.0 7.0 0 1 0 -14.0 0M605.1 366.2a7.0 7.0 0 1 0 14.0 0a7.0 7.0 0 1 0 -14.0 0M605.2 366.7a7.0 7.0 0 1 0 14.0 0a7.0 7.0 0 1 0 -14.0 0M599.7 362.1a7.0 7.0 0 1 0 14.0 0a7.0 7.0 0 1 0 -14.0 0M605.0 357.2a7.0 7.0 0 1 0 14.0 0a7.0 7.0 0 1 0 -14.0 0M605.1 367.6a7.0 7.0 0 1 0 14.0 0a7.0 7.0 0 1 0 -14.0 0M604.3 360.1a7.0 7.0 0 1 0 14.0 0a7.0 7.0 0 1 0 -14.0 0M603.0 357.7a7.0 7.0 0 1 0 14.0 0a7.0 7.0 0 1 0 -14.0 0M601.3 358.7a7.0 7.0 0 1 0 14.0 0a7.0 7.0 0 1 0 -14.0 0M614.5 368.3a7.0 7.0 0 1 0 14.0 0a7.0 7.0 0 1 0 -14.0 0M607.4 359.5a7.0 7.0 0 1 0 14.0 0a7.0 7.0 0 1 0 -14.0 0M615.5 367.6a7.0 7.0 0 1 0 14.0 0a7.0 7.0 0 1 0 -14.0 0M610.4 356.2a7.0 7.0 0 1 0 14.0 0a7.0 7.0 0 1 0 -14.0 0M609.0 354.1a7.0 7.0 0 1 0 14.0 0a7.0 7.0 0 1 0 -14.0 0M612.2 367.9a7.0 7.0 0 1 0 14.0 0a7.0 7.0 0 1 0 -14.0 0M611.0 359.4a7.0 7.0 0 1 0 14.0 0a7.0 7.0 0 1 0 -14.0 0M611.7 356.7a7.0 7.0 0 1 0 14.0 0a7.0 7.0 0 1 0 -14.0 0M608.7 355.7a7.0 7.0 0 1 0 14.0 0a7.0 7.0 0 1 0 -14.0 0M610.9 357.9a7.0 7.0 0 1 0 14.0 0a7.0 7.0 0 1 0 -14.0 0M613.6 361.9a7.0 7.0 0 1 0 14.0 0a7.0 7.0 0 1 0 -14.0 0M611.2 354.4a7.0 7.0 0 1 0 14.0 0a7.0 7.0 0 1 0 -14.0 0M616.7 350.9a7.0 7.0 0 1 0 14.0 0a7.0 7.0 0 1 0 -14.0 0M613.0 364.5a7.0 7.0 0 1 0 14.0 0a7.0 7.0 0 1 0 -14.0 0M607.9 352.4a7.0 7.0 0 1 0 14.0 0a7.0 7.0 0 1 0 -14.0 0M614.3 351.2a7.0 7.0 0 1 0 14.0 0a7.0 7.0 0 1 0 -14.0 0M610.6 358.9a7.0 7.0 0 1 0 14.0 0a7.0 7.0 0 1 0 -14.0 0M617.1 349.2a7.0 7.0 0 1 0 14.0 0a7.0 7.0 0 1 0 -14.0 0M613.3 364.2a7.0 7.0 0 1 0 14.0 0a7.0 7.0 0 1 0 -14.0 0M611.6 351.5a7.0 7.0 0 1 0 14.0 0a7.0 7.0 0 1 0 -14.0 0M611.1 356.9a7.0 7.0 0 1 0 14.0 0a7.0 7.0 0 1 0 -14.0 0M613.3 349.9a7.0 7.0 0 1 0 14.0 0a7.0 7.0 0 1 0 -14.0 0M615.4 364.3a7.0 7.0 0 1 0 14.0 0a7.0 7.0 0 1 0 -14.0 0M607.3 365.8a7.0 7.0 0 1 0 14.0 0a7.0 7.0 0 1 0 -14.0 0M611.5 358.9a7.0 7.0 0 1 0 14.0 0a7.0 7.0 0 1 0 -14.0 0M627.1 342.3a7.0 7.0 0 1 0 14.0 0a7.0 7.0 0 1 0 -14.0 0M617.8 348.7a7.0 7.0 0 1 0 14.0 0a7.0 7.0 0 1 0 -14.0 0M627.0 343.2a7.0 7.0 0 1 0 14.0 0a7.0 7.0 0 1 0 -14.0 0M624.2 363.6a7.0 7.0 0 1 0 14.0 0a7.0 7.0 0 1 0 -14.0 0M627.5 345.4a7.0 7.0 0 1 0 14.0 0a7.0 7.0 0 1 0 -14.0 0M625.5 342.0a7.0 7.0 0 1 0 14.0 0a7.0 7.0 0 1 0 -14.0 0M621.5 367.4a7.0 7.0 0 1 0 14.0 0a7.0 7.0 0 1 0 -14.0 0M623.9 347.3a7.0 7.0 0 1 0 14.0 0a7.0 7.0 0 1 0 -14.0 0M619.7 350.6a7.0 7.0 0 1 0 14.0 0a7.0 7.0 0 1 0 -14.0 0M628.5 364.2a7.0 7.0 0 1 0 14.0 0a7.0 7.0 0 1 0 -14.0 0M624.6 351.3a7.0 7.0 0 1 0 14.0 0a7.0 7.0 0 1 0 -14.0 0M622.9 365.2a7.0 7.0 0 1 0 14.0 0a7.0 7.0 0 1 0 -14.0 0M620.4 350.4a7.0 7.0 0 1 0 14.0 0a7.0 7.0 0 1 0 -14.0 0M626.8 358.0a7.0 7.0 0 1 0 14.0 0a7.0 7.0 0 1 0 -14.0 0M618.4 349.3a7.0 7.0 0 1 0 14.0 0a7.0 7.0 0 1 0 -14.0 0M626.6 364.3a7.0 7.0 0 1 0 14.0 0a7.0 7.0 0 1 0 -14.0 0M624.3 343.3a7.0 7.0 0 1 0 14.0 0a7.0 7.0 0 1 0 -14.0 0M627.9 355.7a7.0 7.0 0 1 0 14.0 0a7.0 7.0 0 1 0 -14.0 0M623.0 354.8a7.0 7.0 0 1 0 14.0 0a7.0 7.0 0 1 0 -14.0 0M619.6 365.7a7.0 7.0 0 1 0 14.0 0a7.0 7.0 0 1 0 -14.0 0M619.5 352.3a7.0 7.0 0 1 0 14.0 0a7.0 7.0 0 1 0 -14.0 0M621.7 355.9a7.0 7.0 0 1 0 14.0 0a7.0 7.0 0 1 0 -14.0 0M622.1 357.2a7.0 7.0 0 1 0 14.0 0a7.0 7.0 0 1 0 -14.0 0M619.1 368.0a7.0 7.0 0 1 0 14.0 0a7.0 7.0 0 1 0 -14.0 0M629.3 360.2a7.0 7.0 0 1 0 14.0 0a7.0 7.0 0 1 0 -14.0 0M618.6 354.7a7.0 7.0 0 1 0 14.0 0a7.0 7.0 0 1 0 -14.0 0M626.7 366.0a7.0 7.0 0 1 0 14.0 0a7.0 7.0 0 1 0 -14.0 0M624.5 361.7a7.0 7.0 0 1 0 14.0 0a7.0 7.0 0 1 0 -14.0 0M623.5 368.2a7.0 7.0 0 1 0 14.0 0a7.0 7.0 0 1 0 -14.0 0M617.7 343.4a7.0 7.0 0 1 0 14.0 0a7.0 7.0 0 1 0 -14.0 0M627.7 357.0a7.0 7.0 0 1 0 14.0 0a7.0 7.0 0 1 0 -14.0 0M624.1 363.9a7.0 7.0 0 1 0 14.0 0a7.0 7.0 0 1 0 -14.0 0M626.7 359.1a7.0 7.0 0 1 0 14.0 0a7.0 7.0 0 1 0 -14.0 0M628.7 346.5a7.0 7.0 0 1 0 14.0 0a7.0 7.0 0 1 0 -14.0 0M627.1 339.1a7.0 7.0 0 1 0 14.0 0a7.0 7.0 0 1 0 -14.0 0M620.3 368.0a7.0 7.0 0 1 0 14.0 0a7.0 7.0 0 1 0 -14.0 0M619.7 365.9a7.0 7.0 0 1 0 14.0 0a7.0 7.0 0 1 0 -14.0 0M618.3 367.9a7.0 7.0 0 1 0 14.0 0a7.0 7.0 0 1 0 -14.0 0M624.0 344.5a7.0 7.0 0 1 0 14.0 0a7.0 7.0 0 1 0 -14.0 0M635.7 336.1a7.0 7.0 0 1 0 14.0 0a7.0 7.0 0 1 0 -14.0 0M642.0 367.5a7.0 7.0 0 1 0 14.0 0a7.0 7.0 0 1 0 -14.0 0M637.7 358.5a7.0 7.0 0 1 0 14.0 0a7.0 7.0 0 1 0 -14.0 0M631.0 337.4a7.0 7.0 0 1 0 14.0 0a7.0 7.0 0 1 0 -14.0 0M632.9 353.2a7.0 7.0 0 1 0 14.0 0a7.0 7.0 0 1 0 -14.0 0M638.3 334.6a7.0 7.0 0 1 0 14.0 0a7.0 7.0 0 1 0 -14.0 0M638.7 358.6a7.0 7.0 0 1 0 14.0 0a7.0 7.0 0 1 0 -14.0 0M635.6 365.6a7.0 7.0 0 1 0 14.0 0a7.0 7.0 0 1 0 -14.0 0M642.8 330.9a7.0 7.0 0 1 0 14.0 0a7.0 7.0 0 1 0 -14.0 0M632.4 367.9a7.0 7.0 0 1 0 14.0 0a7.0 7.0 0 1 0 -14.0 0M632.9 360.5a7.0 7.0 0 1 0 14.0 0a7.0 7.0 0 1 0 -14.0 0M641.9 335.8a7.0 7.0 0 1 0 14.0 0a7.0 7.0 0 1 0 -14.0 0M641.0 367.8a7.0 7.0 0 1 0 14.0 0a7.0 7.0 0 1 0 -14.0 0M640.3 345.6a7.0 7.0 0 1 0 14.0 0a7.0 7.0 0 1 0 -14.0 0M638.4 333.1a7.0 7.0 0 1 0 14.0 0a7.0 7.0 0 1 0 -14.0 0M630.1 366.1a7.0 7.0 0 1 0 14.0 0a7.0 7.0 0 1 0 -14.0 0M639.9 334.8a7.0 7.0 0 1 0 14.0 0a7.0 7.0 0 1 0 -14.0 0M638.8 361.7a7.0 7.0 0 1 0 14.0 0a7.0 7.0 0 1 0 -14.0 0M637.6 344.2a7.0 7.0 0 1 0 14.0 0a7.0 7.0 0 1 0 -14.0 0M630.8 361.6a7.0 7.0 0 1 0 14.0 0a7.0 7.0 0 1 0 -14.0 0M632.9 366.5a7.0 7.0 0 1 0 14.0 0a7.0 7.0 0 1 0 -14.0 0M636.0 365.4a7.0 7.0 0 1 0 14.0 0a7.0 7.0 0 1 0 -14.0 0M632.6 366.1a7.0 7.0 0 1 0 14.0 0a7.0 7.0 0 1 0 -14.0 0M638.8 368.2a7.0 7.0 0 1 0 14.0 0a7.0 7.0 0 1 0 -14.0 0M639.3 364.6a7.0 7.0 0 1 0 14.0 0a7.0 7.0 0 1 0 -14.0 0M629.8 339.3a7.0 7.0 0 1 0 14.0 0a7.0 7.0 0 1 0 -14.0 0M632.4 338.0a7.0 7.0 0 1 0 14.0 0a7.0 7.0 0 1 0 -14.0 0M641.4 336.8a7.0 7.0 0 1 0 14.0 0a7.0 7.0 0 1 0 -14.0 0M631.3 357.7a7.0 7.0 0 1 0 14.0 0a7.0 7.0 0 1 0 -14.0 0M630.7 338.9a7.0 7.0 0 1 0 14.0 0a7.0 7.0 0 1 0 -14.0 0M641.1 349.0a7.0 7.0 0 1 0 14.0 0a7.0 7.0 0 1 0 -14.0 0M635.6 360.6a7.0 7.0 0 1 0 14.0 0a7.0 7.0 0 1 0 -14.0 0M640.8 355.2a7.0 7.0 0 1 0 14.0 0a7.0 7.0 0 1 0 -14.0 0M638.1 366.0a7.0 7.0 0 1 0 14.0 0a7.0 7.0 0 1 0 -14.0 0M632.4 367.7a7.0 7.0 0 1 0 14.0 0a7.0 7.0 0 1 0 -14.0 0M639.3 352.5a7.0 7.0 0 1 0 14.0 0a7.0 7.0 0 1 0 -14.0 0M631.3 341.2a7.0 7.0 0 1 0 14.0 0a7.0 7.0 0 1 0 -14.0 0M633.0 358.6a7.0 7.0 0 1 0 14.0 0a7.0 7.0 0 1 0 -14.0 0M631.5 363.0a7.0 7.0 0 1 0 14.0 0a7.0 7.0 0 1 0 -14.0 0M641.1 360.3a7.0 7.0 0 1 0 14.0 0a7.0 7.0 0 1 0 -14.0 0M631.6 356.1a7.0 7.0 0 1 0 14.0 0a7.0 7.0 0 1 0 -14.0 0M633.8 338.9a7.0 7.0 0 1 0 14.0 0a7.0 7.0 0 1 0 -14.0 0M630.9 336.6a7.0 7.0 0 1 0 14.0 0a7.0 7.0 0 1 0 -14.0 0M630.1 340.6a7.0 7.0 0 1 0 14.0 0a7.0 7.0 0 1 0 -14.0 0M638.7 364.2a7.0 7.0 0 1 0 14.0 0a7.0 7.0 0 1 0 -14.0 0M636.0 362.2a7.0 7.0 0 1 0 14.0 0a7.0 7.0 0 1 0 -14.0 0M632.9 364.7a7.0 7.0 0 1 0 14.0 0a7.0 7.0 0 1 0 -14.0 0M634.4 334.5a7.0 7.0 0 1 0 14.0 0a7.0 7.0 0 1 0 -14.0 0M643.3 334.2a7.0 7.0 0 1 0 14.0 0a7.0 7.0 0 1 0 -14.0 0M630.7 362.6a7.0 7.0 0 1 0 14.0 0a7.0 7.0 0 1 0 -14.0 0M641.8 367.6a7.0 7.0 0 1 0 14.0 0a7.0 7.0 0 1 0 -14.0 0M652.0 361.9a7.0 7.0 0 1 0 14.0 0a7.0 7.0 0 1 0 -14.0 0M655.0 368.2a7.0 7.0 0 1 0 14.0 0a7.0 7.0 0 1 0 -14.0 0M653.0 360.4a7.0 7.0 0 1 0 14.0 0a7.0 7.0 0 1 0 -14.0 0M645.0 368.3a7.0 7.0 0 1 0 14.0 0a7.0 7.0 0 1 0 -14.0 0M653.3 353.8a7.0 7.0 0 1 0 14.0 0a7.0 7.0 0 1 0 -14.0 0M645.5 356.6a7.0 7.0 0 1 0 14.0 0a7.0 7.0 0 1 0 -14.0 0M654.2 364.1a7.0 7.0 0 1 0 14.0 0a7.0 7.0 0 1 0 -14.0 0M650.2 366.0a7.0 7.0 0 1 0 14.0 0a7.0 7.0 0 1 0 -14.0 0M645.5 342.3a7.0 7.0 0 1 0 14.0 0a7.0 7.0 0 1 0 -14.0 0M651.8 364.6a7.0 7.0 0 1 0 14.0 0a7.0 7.0 0 1 0 -14.0 0M644.3 367.1a7.0 7.0 0 1 0 14.0 0a7.0 7.0 0 1 0 -14.0 0M650.6 354.8a7.0 7.0 0 1 0 14.0 0a7.0 7.0 0 1 0 -14.0 0M646.6 364.2a7.0 7.0 0 1 0 14.0 0a7.0 7.0 0 1 0 -14.0 0M650.6 346.0a7.0 7.0 0 1 0 14.0 0a7.0 7.0 0 1 0 -14.0 0M653.0 351.6a7.0 7.0 0 1 0 14.0 0a7.0 7.0 0 1 0 -14.0 0M645.7 367.5a7.0 7.0 0 1 0 14.0 0a7.0 7.0 0 1 0 -14.0 0M652.1 358.1a7.0 7.0 0 1 0 14.0 0a7.0 7.0 0 1 0 -14.0 0M652.0 367.7a7.0 7.0 0 1 0 14.0 0a7.0 7.0 0 1 0 -14.0 0M653.0 360.6a7.0 7.0 0 1 0 14.0 0a7.0 7.0 0 1 0 -14.0 0M653.4 339.4a7.0 7.0 0 1 0 14.0 0a7.0 7.0 0 1 0 -14.0 0M649.2 368.2a7.0 7.0 0 1 0 14.0 0a7.0 7.0 0 1 0 -14.0 0M654.2 355.8a7.0 7.0 0 1 0 14.0 0a7.0 7.0 0 1 0 -14.0 0M653.8 362.8a7.0 7.0 0 1 0 14.0 0a7.0 7.0 0 1 0 -14.0 0M645.5 339.4a7.0 7.0 0 1 0 14.0 0a7.0 7.0 0 1 0 -14.0 0M647.7 365.4a7.0 7.0 0 1 0 14.0 0a7.0 7.0 0 1 0 -14.0 0M647.8 350.5a7.0 7.0 0 1 0 14.0 0a7.0 7.0 0 1 0 -14.0 0M643.4 353.1a7.0 7.0 0 1 0 14.0 0a7.0 7.0 0 1 0 -14.0 0M648.6 353.8a7.0 7.0 0 1 0 14.0 0a7.0 7.0 0 1 0 -14.0 0M644.7 344.8a7.0 7.0 0 1 0 14.0 0a7.0 7.0 0 1 0 -14.0 0M653.1 339.3a7.0 7.0 0 1 0 14.0 0a7.0 7.0 0 1 0 -14.0 0M647.2 345.3a7.0 7.0 0 1 0 14.0 0a7.0 7.0 0 1 0 -14.0 0M647.9 343.6a7.0 7.0 0 1 0 14.0 0a7.0 7.0 0 1 0 -14.0 0M644.0 337.0a7.0 7.0 0 1 0 14.0 0a7.0 7.0 0 1 0 -14.0 0M654.7 355.2a7.0 7.0 0 1 0 14.0 0a7.0 7.0 0 1 0 -14.0 0M649.5 353.3a7.0 7.0 0 1 0 14.0 0a7.0 7.0 0 1 0 -14.0 0M649.7 368.1a7.0 7.0 0 1 0 14.0 0a7.0 7.0 0 1 0 -14.0 0M654.9 364.0a7.0 7.0 0 1 0 14.0 0a7.0 7.0 0 1 0 -14.0 0M645.5 366.8a7.0 7.0 0 1 0 14.0 0a7.0 7.0 0 1 0 -14.0 0M646.3 340.2a7.0 7.0 0 1 0 14.0 0a7.0 7.0 0 1 0 -14.0 0M643.7 366.9a7.0 7.0 0 1 0 14.0 0a7.0 7.0 0 1 0 -14.0 0M651.7 364.7a7.0 7.0 0 1 0 14.0 0a7.0 7.0 0 1 0 -14.0 0M643.5 349.8a7.0 7.0 0 1 0 14.0 0a7.0 7.0 0 1 0 -14.0 0M650.2 353.7a7.0 7.0 0 1 0 14.0 0a7.0 7.0 0 1 0 -14.0 0M651.7 366.8a7.0 7.0 0 1 0 14.0 0a7.0 7.0 0 1 0 -14.0 0M664.0 350.1a7.0 7.0 0 1 0 14.0 0a7.0 7.0 0 1 0 -14.0 0M655.8 366.5a7.0 7.0 0 1 0 14.0 0a7.0 7.0 0 1 0 -14.0 0M660.2 356.3a7.0 7.0 0 1 0 14.0 0a7.0 7.0 0 1 0 -14.0 0M658.1 366.6a7.0 7.0 0 1 0 14.0 0a7.0 7.0 0 1 0 -14.0 0M659.4 366.3a7.0 7.0 0 1 0 14.0 0a7.0 7.0 0 1 0 -14.0 0M661.2 343.3a7.0 7.0 0 1 0 14.0 0a7.0 7.0 0 1 0 -14.0 0M656.8 352.7a7.0 7.0 0 1 0 14.0 0a7.0 7.0 0 1 0 -14.0 0M662.8 365.9a7.0 7.0 0 1 0 14.0 0a7.0 7.0 0 1 0 -14.0 0M663.6 341.6a7.0 7.0 0 1 0 14.0 0a7.0 7.0 0 1 0 -14.0 0M659.2 358.7a7.0 7.0 0 1 0 14.0 0a7.0 7.0 0 1 0 -14.0 0M663.7 356.5a7.0 7.0 0 1 0 14.0 0a7.0 7.0 0 1 0 -14.0 0M659.3 338.7a7.0 7.0 0 1 0 14.0 0a7.0 7.0 0 1 0 -14.0 0M663.1 361.8a7.0 7.0 0 1 0 14.0 0a7.0 7.0 0 1 0 -14.0 0M657.7 361.1a7.0 7.0 0 1 0 14.0 0a7.0 7.0 0 1 0 -14.0 0M659.7 337.2a7.0 7.0 0 1 0 14.0 0a7.0 7.0 0 1 0 -14.0 0M663.3 342.5a7.0 7.0 0 1 0 14.0 0a7.0 7.0 0 1 0 -14.0 0M663.5 345.1a7.0 7.0 0 1 0 14.0 0a7.0 7.0 0 1 0 -14.0 0M655.8 354.5a7.0 7.0 0 1 0 14.0 0a7.0 7.0 0 1 0 -14.0 0M664.9 342.6a7.0 7.0 0 1 0 14.0 0a7.0 7.0 0 1 0 -14.0 0M657.8 358.4a7.0 7.0 0 1 0 14.0 0a7.0 7.0 0 1 0 -14.0 0M661.6 360.9a7.0 7.0 0 1 0 14.0 0a7.0 7.0 0 1 0 -14.0 0M660.6 367.6a7.0 7.0 0 1 0 14.0 0a7.0 7.0 0 1 0 -14.0 0M659.6 356.0a7.0 7.0 0 1 0 14.0 0a7.0 7.0 0 1 0 -14.0 0M655.5 366.1a7.0 7.0 0 1 0 14.0 0a7.0 7.0 0 1 0 -14.0 0M665.0 348.5a7.0 7.0 0 1 0 14.0 0a7.0 7.0 0 1 0 -14.0 0M664.7 353.3a7.0 7.0 0 1 0 14.0 0a7.0 7.0 0 1 0 -14.0 0M663.4 343.6a7.0 7.0 0 1 0 14.0 0a7.0 7.0 0 1 0 -14.0 0M664.1 368.0a7.0 7.0 0 1 0 14.0 0a7.0 7.0 0 1 0 -14.0 0M661.7 363.5a7.0 7.0 0 1 0 14.0 0a7.0 7.0 0 1 0 -14.0 0M662.1 363.4a7.0 7.0 0 1 0 14.0 0a7.0 7.0 0 1 0 -14.0 0M660.7 340.3a7.0 7.0 0 1 0 14.0 0a7.0 7.0 0 1 0 -14.0 0M661.5 363.9a7.0 7.0 0 1 0 14.0 0a7.0 7.0 0 1 0 -14.0 0M670.5 360.9a7.0 7.0 0 1 0 14.0 0a7.0 7.0 0 1 0 -14.0 0M674.8 364.7a7.0 7.0 0 1 0 14.0 0a7.0 7.0 0 1 0 -14.0 0M668.4 354.4a7.0 7.0 0 1 0 14.0 0a7.0 7.0 0 1 0 -14.0 0M666.5 355.3a7.0 7.0 0 1 0 14.0 0a7.0 7.0 0 1 0 -14.0 0M674.9 360.3a7.0 7.0 0 1 0 14.0 0a7.0 7.0 0 1 0 -14.0 0M668.0 359.4a7.0 7.0 0 1 0 14.0 0a7.0 7.0 0 1 0 -14.0 0M670.6 366.7a7.0 7.0 0 1 0 14.0 0a7.0 7.0 0 1 0 -14.0 0M666.5 366.7a7.0 7.0 0 1 0 14.0 0a7.0 7.0 0 1 0 -14.0 0M668.2 361.0a7.0 7.0 0 1 0 14.0 0a7.0 7.0 0 1 0 -14.0 0M668.2 364.7a7.0 7.0 0 1 0 14.0 0a7.0 7.0 0 1 0 -14.0 0M666.2 356.6a7.0 7.0 0 1 0 14.0 0a7.0 7.0 0 1 0 -14.0 0M673.7 357.6a7.0 7.0 0 1 0 14.0 0a7.0 7.0 0 1 0 -14.0 0M671.0 355.5a7.0 7.0 0 1 0 14.0 0a7.0 7.0 0 1 0 -14.0 0M667.3 352.0a7.0 7.0 0 1 0 14.0 0a7.0 7.0 0 1 0 -14.0 0M669.9 357.8a7.0 7.0 0 1 0 14.0 0a7.0 7.0 0 1 0 -14.0 0M671.4 360.3a7.0 7.0 0 1 0 14.0 0a7.0 7.0 0 1 0 -14.0 0M668.4 364.8a7.0 7.0 0 1 0 14.0 0a7.0 7.0 0 1 0 -14.0 0M667.5 358.0a7.0 7.0 0 1 0 14.0 0a7.0 7.0 0 1 0 -14.0 0M669.1 356.5a7.0 7.0 0 1 0 14.0 0a7.0 7.0 0 1 0 -14.0 0M665.4 361.8a7.0 7.0 0 1 0 14.0 0a7.0 7.0 0 1 0 -14.0 0M673.9 365.5a7.0 7.0 0 1 0 14.0 0a7.0 7.0 0 1 0 -14.0 0M670.9 359.6a7.0 7.0 0 1 0 14.0 0a7.0 7.0 0 1 0 -14.0 0M668.1 343.0a7.0 7.0 0 1 0 14.0 0a7.0 7.0 0 1 0 -14.0 0M668.3 350.5a7.0 7.0 0 1 0 14.0 0a7.0 7.0 0 1 0 -14.0 0M666.9 367.7a7.0 7.0 0 1 0 14.0 0a7.0 7.0 0 1 0 -14.0 0M674.0 361.6a7.0 7.0 0 1 0 14.0 0a7.0 7.0 0 1 0 -14.0 0M665.9 361.0a7.0 7.0 0 1 0 14.0 0a7.0 7.0 0 1 0 -14.0 0M669.7 352.4a7.0 7.0 0 1 0 14.0 0a7.0 7.0 0 1 0 -14.0 0M676.2 365.9a7.0 7.0 0 1 0 14.0 0a7.0 7.0 0 1 0 -14.0 0M683.0 359.6a7.0 7.0 0 1 0 14.0 0a7.0 7.0 0 1 0 -14.0 0M676.5 364.2a7.0 7.0 0 1 0 14.0 0a7.0 7.0 0 1 0 -14.0 0M678.1 358.2a7.0 7.0 0 1 0 14.0 0a7.0 7.0 0 1 0 -14.0 0M680.2 355.8a7.0 7.0 0 1 0 14.0 0a7.0 7.0 0 1 0 -14.0 0M681.9 362.6a7.0 7.0 0 1 0 14.0 0a7.0 7.0 0 1 0 -14.0 0M681.2 358.5a7.0 7.0 0 1 0 14.0 0a7.0 7.0 0 1 0 -14.0 0M681.4 363.1a7.0 7.0 0 1 0 14.0 0a7.0 7.0 0 1 0 -14.0 0M681.6 359.3a7.0 7.0 0 1 0 14.0 0a7.0 7.0 0 1 0 -14.0 0M682.6 367.5a7.0 7.0 0 1 0 14.0 0a7.0 7.0 0 1 0 -14.0 0M682.3 368.3a7.0 7.0 0 1 0 14.0 0a7.0 7.0 0 1 0 -14.0 0M681.4 361.4a7.0 7.0 0 1 0 14.0 0a7.0 7.0 0 1 0 -14.0 0M679.3 352.6a7.0 7.0 0 1 0 14.0 0a7.0 7.0 0 1 0 -14.0 0M679.9 363.6a7.0 7.0 0 1 0 14.0 0a7.0 7.0 0 1 0 -14.0 0M681.6 356.3a7.0 7.0 0 1 0 14.0 0a7.0 7.0 0 1 0 -14.0 0M680.2 364.2a7.0 7.0 0 1 0 14.0 0a7.0 7.0 0 1 0 -14.0 0M686.0 364.6a7.0 7.0 0 1 0 14.0 0a7.0 7.0 0 1 0 -14.0 0M687.6 366.2a7.0 7.0 0 1 0 14.0 0a7.0 7.0 0 1 0 -14.0 0M685.6 363.4a7.0 7.0 0 1 0 14.0 0a7.0 7.0 0 1 0 -14.0 0M685.6 365.8a7.0 7.0 0 1 0 14.0 0a7.0 7.0 0 1 0 -14.0 0M688.0 361.6a7.0 7.0 0 1 0 14.0 0a7.0 7.0 0 1 0 -14.0 0M686.3 364.8a7.0 7.0 0 1 0 14.0 0a7.0 7.0 0 1 0 -14.0 0M582.0 347.3a7.0 7.0 0 1 0 14.0 0a7.0 7.0 0 1 0 -14.0 0M581.2 355.7a7.0 7.0 0 1 0 14.0 0a7.0 7.0 0 1 0 -14.0 0M589.9 336.4a7.0 7.0 0 1 0 14.0 0a7.0 7.0 0 1 0 -14.0 0M596.7 341.9a7.0 7.0 0 1 0 14.0 0a7.0 7.0 0 1 0 -14.0 0M595.2 362.1a7.0 7.0 0 1 0 14.0 0a7.0 7.0 0 1 0 -14.0 0M597.5 336.9a7.0 7.0 0 1 0 14.0 0a7.0 7.0 0 1 0 -14.0 0M586.8 365.3a7.0 7.0 0 1 0 14.0 0a7.0 7.0 0 1 0 -14.0 0M578.5 341.5a7.0 7.0 0 1 0 14.0 0a7.0 7.0 0 1 0 -14.0 0M589.6 350.8a7.0 7.0 0 1 0 14.0 0a7.0 7.0 0 1 0 -14.0 0M596.7 359.5a7.0 7.0 0 1 0 14.0 0a7.0 7.0 0 1 0 -14.0 0M609.1 350.5a7.0 7.0 0 1 0 14.0 0a7.0 7.0 0 1 0 -14.0 0M608.6 337.7a7.0 7.0 0 1 0 14.0 0a7.0 7.0 0 1 0 -14.0 0M612.0 330.9a7.0 7.0 0 1 0 14.0 0a7.0 7.0 0 1 0 -14.0 0M605.5 343.6a7.0 7.0 0 1 0 14.0 0a7.0 7.0 0 1 0 -14.0 0M605.3 355.1a7.0 7.0 0 1 0 14.0 0a7.0 7.0 0 1 0 -14.0 0M611.8 334.4a7.0 7.0 0 1 0 14.0 0a7.0 7.0 0 1 0 -14.0 0M600.3 341.4a7.0 7.0 0 1 0 14.0 0a7.0 7.0 0 1 0 -14.0 0M606.3 341.6a7.0 7.0 0 1 0 14.0 0a7.0 7.0 0 1 0 -14.0 0M609.8 346.1a7.0 7.0 0 1 0 14.0 0a7.0 7.0 0 1 0 -14.0 0M652.1 326.6a7.0 7.0 0 1 0 14.0 0a7.0 7.0 0 1 0 -14.0 0M633.7 328.9a7.0 7.0 0 1 0 14.0 0a7.0 7.0 0 1 0 -14.0 0M653.2 324.1a7.0 7.0 0 1 0 14.0 0a7.0 7.0 0 1 0 -14.0 0M636.9 332.2a7.0 7.0 0 1 0 14.0 0a7.0 7.0 0 1 0 -14.0 0M624.3 323.7a7.0 7.0 0 1 0 14.0 0a7.0 7.0 0 1 0 -14.0 0M652.5 332.3a7.0 7.0 0 1 0 14.0 0a7.0 7.0 0 1 0 -14.0 0M636.2 320.2a7.0 7.0 0 1 0 14.0 0a7.0 7.0 0 1 0 -14.0 0M649.6 330.0a7.0 7.0 0 1 0 14.0 0a7.0 7.0 0 1 0 -14.0 0M647.0 335.1a7.0 7.0 0 1 0 14.0 0a7.0 7.0 0 1 0 -14.0 0M649.4 325.5a7.0 7.0 0 1 0 14.0 0a7.0 7.0 0 1 0 -14.0 0M658.0 325.2a7.0 7.0 0 1 0 14.0 0a7.0 7.0 0 1 0 -14.0 0M668.6 333.8a7.0 7.0 0 1 0 14.0 0a7.0 7.0 0 1 0 -14.0 0M658.9 323.8a7.0 7.0 0 1 0 14.0 0a7.0 7.0 0 1 0 -14.0 0M672.2 337.3a7.0 7.0 0 1 0 14.0 0a7.0 7.0 0 1 0 -14.0 0M663.9 340.5a7.0 7.0 0 1 0 14.0 0a7.0 7.0 0 1 0 -14.0 0M672.4 326.7a7.0 7.0 0 1 0 14.0 0a7.0 7.0 0 1 0 -14.0 0M665.6 337.6a7.0 7.0 0 1 0 14.0 0a7.0 7.0 0 1 0 -14.0 0M662.5 334.4a7.0 7.0 0 1 0 14.0 0a7.0 7.0 0 1 0 -14.0 0" stroke="#f00" stroke-width="1.5" fill="none"/>
<path d="M88.9 244.4l9.2 9.2m0 -9.2l-9.2 9.2M106.4 270.8l9.2 9.2m0 -9.2l-9.2 9.2M108.2 274.5l9.2 9.2m0 -9.2l-9.2 9.2M109.9 275.7l9.2 9.2m0 -9.2l-9.2 9.2M120.0 288.7l9.2 9.2m0 -9.2l-9.2 9.2M122.6 299.9l9.2 9.2m0 -9.2l-9.2 9.2M128.9 298.7l9.2 9.2m0 -9.2l-9.2 9.2M128.6 306.2l9.2 9.2m0 -9.2l-9.2 9.2M152.0 328.7l9.2 9.2m0 -9.2l-9.2 9.2M214.4 425.1l9.2 9.2m0 -9.2l-9.2 9.2M220.5 426.9l9.2 9.2m0 -9.2l-9.2 9.2M211.0 414.8l9.2 9.2m0 -9.2l-9.2 9.2M197.1 397.5l9.2 9.2m0 -9.2l-9.2 9.2M242.1 428.6l9.2 9.2m0 -9.2l-9.2 9.2M321.4 427.6l9.2 9.2m0 -9.2l-9.2 9.2M333.1 426.1l9.2 9.2m0 -9.2l-9.2 9.2M352.1 421.0l9.2 9.2m0 -9.2l-9.2 9.2M344.8 429.0l9.2 9.2m0 -9.2l-9.2 9.2M371.2 429.0l9.2 9.2m0 -9.2l-9.2 9.2M375.5 428.5l9.2 9.2m0 -9.2l-9.2 9.2M387.3 426.1l9.2 9.2m0 -9.2l-9.2 9.2M390.2 418.1l9.2 9.2m0 -9.2l-9.2 9.2M387.2 424.1l9.2 9.2m0 -9.2l-9.2 9.2M357.7 431.7l9.2 9.2m0 -9.2l-9.2 9.2M363.7 429.7l9.2 9.2m0 -9.2l-9.2 9.2M378.7 430.7l9.2 9.2m0 -9.2l-9.2 9.2M381.7 428.7l9.2 9.2m0 -9.2l-9.2 9.2M365.7 432.7l9.2 9.2m0 -9.2l-9.2 9.2M336.7 431.7l9.2 9.2m0 -9.2l-9.2 9.2M325.7 432.7l9.2 9.2m0 -9.2l-9.2 9.2M175.2 378.0l9.2 9.2m0 -9.2l-9.2 9.2M177.8 368.2l9.2 9.2m0 -9.2l-9.2 9.2M168.1 371.7l9.2 9.2m0 -9.2l-9.2 9.2M175.4 362.0l9.2 9.2m0 -9.2l-9.2 9.2M174.3 367.2l9.2 9.2m0 -9.2l-9.2 9.2M170.6 364.5l9.2 9.2m0 -9.2l-9.2 9.2M167.9 358.6l9.2 9.2m0 -9.2l-9.2 9.2M169.3 364.2l9.2 9.2m0 -9.2l-9.2 9.2M178.1 364.7l9.2 9.2m0 -9.2l-9.2 9.2M178.2 366.2l9.2 9.2m0 -9.2l-9.2 9.2M186.9 384.2l9.2 9.2m0 -9.2l-9.2 9.2M197.6 385.6l9.2 9.2m0 -9.2l-9.2 9.2M179.8 372.1l9.2 9.2m0 -9.2l-9.2 9.2M187.3 386.3l9.2 9.2m0 -9.2l-9.2 9.2M183.1 372.8l9.2 9.2m0 -9.2l-9.2 9.2M199.3 379.4l9.2 9.2m0 -9.2l-9.2 9.2M188.1 385.0l9.2 9.2m0 -9.2l-9.2 9.2M196.3 377.3l9.2 9.2m0 -9.2l-9.2 9.2M179.5 364.5l9.2 9.2m0 -9.2l-9.2 9.2M199.9 384.1l9.2 9.2m0 -9.2l-9.2 9.2M195.9 393.0l9.2 9.2m0 -9.2l-9.2 9.2M186.5 373.8l9.2 9.2m0 -9.2l-9.2 9.2M200.7 391.6l9.2 9.2m0 -9.2l-9.2 9.2M184.7 380.5l9.2 9.2m0 -9.2l-9.2 9.2M186.0 373.4l9.2 9.2m0 -9.2l-9.2 9.2M178.8 376.4l9.2 9.2m0 -9.2l-9.2 9.2M199.8 391.2l9.2 9.2m0 -9.2l-9.2 9.2M200.4 380.1l9.2 9.2m0 -9.2l-9.2 9.2M184.1 375.6l9.2 9.2m0 -9.2l-9.2 9.2M200.7 398.0l9.2 9.2m0 -9.2l-9.2 9.2M187.6 374.3l9.2 9.2m0 -9.2l-9.2 9.2M188.6 379.5l9.2 9.2m0 -9.2l-9.2 9.2M214.7 393.3l9.2 9.2m0 -9.2l-9.2 9.2M212.9 402.2l9.2 9.2m0 -9.2l-9.2 9.2M213.2 403.0l9.2 9.2m0 -9.2l-9.2 9.2M210.2 392.8l9.2 9.2m0 -9.2l-9.2 9.2M206.2 390.7l9.2 9.2m0 -9.2l-9.2 9.2M212.7 390.0l9.2 9.2m0 -9.2l-9.2 9.2M204.5 396.8l9.2 9.2m0 -9.2l-9.2 9.2M205.2 384.4l9.2 9.2m0 -9.2l-9.2 9.2M202.2 391.5l9.2 9.2m0 -9.2l-9.2 9.2M206.3 402.3l9.2 9.2m0 -9.2l-9.2 9.2M214.1 407.4l9.2 9.2m0 -9.2l-9.2 9.2M205.4 384.9l9.2 9.2m0 -9.2l-9.2 9.2M203.0 391.1l9.2 9.2m0 -9.2l-9.2 9.2M211.6 396.0l9.2 9.2m0 -9.2l-9.2 9.2M205.0 390.9l9.2 9.2m0 -9.2l-9.2 9.2M210.4 399.3l9.2 9.2m0 -9.2l-9.2 9.2M212.2 403.6l9.2 9.2m0 -9.2l-9.2 9.2M211.0 389.6l9.2 9.2m0 -9.2l-9.2 9.2M226.6 402.8l9.2 9.2m0 -9.2l-9.2 9.2M223.1 401.9l9.2 9.2m0 -9.2l-9.2 9.2M225.3 400.5l9.2 9.2m0 -9.2l-9.2 9.2M218.9 397.2l9.2 9.2m0 -9.2l-9.2 9.2M217.7 407.6l9.2 9.2m0 -9.2l-9.2 9.2M223.2 401.2l9.2 9.2m0 -9.2l-9.2 9.2M220.8 410.9l9.2 9.2m0 -9.2l-9.2 9.2M222.3 399.1l9.2 9.2m0 -9.2l-9.2 9.2M226.2 408.2l9.2 9.2m0 -9.2l-9.2 9.2M228.6 401.2l9.2 9.2m0 -9.2l-9.2 9.2M221.9 408.6l9.2 9.2m0 -9.2l-9.2 9.2M226.6 412.4l9.2 9.2m0 -9.2l-9.2 9.2M216.2 396.3l9.2 9.2m0 -9.2l-9.2 9.2M217.2 395.1l9.2 9.2m0 -9.2l-9.2 9.2M228.3 408.3l9.2 9.2m0 -9.2l-9.2 9.2M227.8 404.7l9.2 9.2m0 -9.2l-9.2 9.2M227.0 405.4l9.2 9.2m0 -9.2l-9.2 9.2M219.1 406.4l9.2 9.2m0 -9.2l-9.2 9.2M228.0 400.8l9.2 9.2m0 -9.2l-9.2 9.2M223.4 406.1l9.2 9.2m0 -9.2l-9.2 9.2M218.5 399.1l9.2 9.2m0 -9.2l-9.2 9.2M217.5 395.6l9.2 9.2m0 -9.2l-9.2 9.2M219.0 403.3l9.2 9.2m0 -9.2l-9.2 9.2M224.2 399.8l9.2 9.2m0 -9.2l-9.2 9.2M215.8 396.7l9.2 9.2m0 -9.2l-9.2 9.2M236.8 406.4l9.2 9.2m0 -9.2l-9.2 9.2M232.4 404.6l9.2 9.2m0 -9.2l-9.2 9.2M238.2 412.3l9.2 9.2m0 -9.2l-9.2 9.2M229.5 401.6l9.2 9.2m0 -9.2l-9.2 9.2M233.4 410.1l9.2 9.2m0 -9.2l-9.2 9.2M236.4 404.8l9.2 9.2m0 -9.2l-9.2 9.2M230.7 411.0l9.2 9.2m0 -9.2l-9.2 9.2M233.6 406.3l9.2 9.2m0 -9.2l-9.2 9.2M232.4 415.6l9.2 9.2m0 -9.2l-9.2 9.2M232.4 409.9l9.2 9.2m0 -9.2l-9.2 9.2M233.0 407.9l9.2 9.2m0 -9.2l-9.2 9.2M239.1 419.0l9.2 9.2m0 -9.2l-9.2 9.2M233.1 404.8l9.2 9.2m0 -9.2l-9.2 9.2M237.4 407.0l9.2 9.2m0 -9.2l-9.2 9.2M228.8 413.3l9.2 9.2m0 -9.2l-9.2 9.2M233.8 414.2l9.2 9.2m0 -9.2l-9.2 9.2M233.6 415.0l9.2 9.2m0 -9.2l-9.2 9.2M234.2 404.8l9.2 9.2m0 -9.2l-9.2 9.2M228.9 408.1l9.2 9.2m0 -9.2l-9.2 9.2M236.4 416.6l9.2 9.2m0 -9.2l-9.2 9.2M229.8 409.5l9.2 9.2m0 -9.2l-9.2 9.2M233.2 409.3l9.2 9.2m0 -9.2l-9.2 9.2M230.5 404.8l9.2 9.2m0 -9.2l-9.2 9.2M235.0 416.2l9.2 9.2m0 -9.2l-9.2 9.2M230.0 407.7l9.2 9.2m0 -9.2l-9.2 9.2M238.4 418.3l9.2 9.2m0 -9.2l-9.2 9.2M231.1 402.8l9.2 9.2m0 -9.2l-9.2 9.2M240.0 419.1l9.2 9.2m0 -9.2l-9.2 9.2M234.5 403.4l9.2 9.2m0 -9.2l-9.2 9.2M239.8 410.7l9.2 9.2m0 -9.2l-9.2 9.2M252.5 419.6l9.2 9.2m0 -9.2l-9.2 9.2M251.4 413.5l9.2 9.2m0 -9.2l-9.2 9.2M250.9 414.0l9.2 9.2m0 -9.2l-9.2 9.2M246.0 419.7l9.2 9.2m0 -9.2l-9.2 9.2M251.5 413.8l9.2 9.2m0 -9.2l-9.2 9.2M243.5 412.6l9.2 9.2m0 -9.2l-9.2 9.2M247.4 414.3l9.2 9.2m0 -9.2l-9.2 9.2M242.3 410.0l9.2 9.2m0 -9.2l-9.2 9.2M250.1 422.0l9.2 9.2m0 -9.2l-9.2 9.2M241.2 413.8l9.2 9.2m0 -9.2l-9.2 9.2M250.5 411.5l9.2 9.2m0 -9.2l-9.2 9.2M251.6 413.0l9.2 9.2m0 -9.2l-9.2 9.2M248.5 416.9l9.2 9.2m0 -9.2l-9.2 9.2M248.9 414.0l9.2 9.2m0 -9.2l-9.2 9.2M246.2 416.3l9.2 9.2m0 -9.2l-9.2 9.2M246.2 417.3l9.2 9.2m0 -9.2l-9.2 9.2M246.5 414.6l9.2 9.2m0 -9.2l-9.2 9.2M241.0 414.5l9.2 9.2m0 -9.2l-9.2 9.2M247.1 412.2l9.2 9.2m0 -9.2l-9.2 9.2M250.6 420.8l9.2 9.2m0 -9.2l-9.2 9.2M246.7 411.3l9.2 9.2m0 -9.2l-9.2 9.2M246.9 410.4l9.2 9.2m0 -9.2l-9.2 9.2M242.4 412.5l9.2 9.2m0 -9.2l-9.2 9.2M241.9 412.4l9.2 9.2m0 -9.2l-9.2 9.2M247.3 409.8l9.2 9.2m0 -9.2l-9.2 9.2M249.0 411.2l9.2 9.2m0 -9.2l-9.2 9.2M250.2 420.6l9.2 9.2m0 -9.2l-9.2 9.2M247.3 410.0l9.2 9.2m0 -9.2l-9.2 9.2M247.3 414.1l9.2 9.2m0 -9.2l-9.2 9.2M253.1 414.0l9.2 9.2m0 -9.2l-9.2 9.2M251.8 423.9l9.2 9.2m0 -9.2l-9.2 9.2M250.2 421.0l9.2 9.2m0 -9.2l-9.2 9.2M243.2 420.4l9.2 9.2m0 -9.2l-9.2 9.2M247.1 421.6l9.2 9.2m0 -9.2l-9.2 9.2M252.6 414.1l9.2 9.2m0 -9.2l-9.2 9.2M250.9 422.8l9.2 9.2m0 -9.2l-9.2 9.2M241.6 411.0l9.2 9.2m0 -9.2l-9.2 9.2M250.5 413.0l9.2 9.2m0 -9.2l-9.2 9.2M265.4 421.1l9.2 9.2m0 -9.2l-9.2 9.2M264.3 419.2l9.2 9.2m0 -9.2l-9.2 9.2M260.2 426.3l9.2 9.2m0 -9.2l-9.2 9.2M256.4 417.0l9.2 9.2m0 -9.2l-9.2 9.2M260.3 419.4l9.2 9.2m0 -9.2l-9.2 9.2M254.2 415.1l9.2 9.2m0 -9.2l-9.2 9.2M255.8 424.8l9.2 9.2m0 -9.2l-9.2 9.2M262.5 426.9l9.2 9.2m0 -9.2l-9.2 9.2M255.9 423.0l9.2 9.2m0 -9.2l-9.2 9.2M255.2 419.7l9.2 9.2m0 -9.2l-9.2 9.2M262.0 420.6l9.2 9.2m0 -9.2l-9.2 9.2M265.0 424.1l9.2 9.2m0 -9.2l-9.2 9.2M261.2 426.3l9.2 9.2m0 -9.2l-9.2 9.2M255.1 425.1l9.2 9.2m0 -9.2l-9.2 9.2M261.9 421.0l9.2 9.2m0 -9.2l-9.2 9.2M264.1 420.5l9.2 9.2m0 -9.2l-9.2 9.2M266.6 425.0l9.2 9.2m0 -9.2l-9.2 9.2M258.4 423.8l9.2 9.2m0 -9.2l-9.2 9.2M259.4 417.4l9.2 9.2m0 -9.2l-9.2 9.2M263.4 417.7l9.2 9.2m0 -9.2l-9.2 9.2M264.4 420.5l9.2 9.2m0 -9.2l-9.2 9.2M262.0 427.7l9.2 9.2m0 -9.2l-9.2 9.2M261.3 423.8l9.2 9.2m0 -9.2l-9.2 9.2M257.8 414.6l9.2 9.2m0 -9.2l-9.2 9.2M254.1 414.7l9.2 9.2m0 -9.2l-9.2 9.2M261.7 421.3l9.2 9.2m0 -9.2l-9.2 9.2M260.4 426.1l9.2 9.2m0 -9.2l-9.2 9.2M255.4 416.2l9.2 9.2m0 -9.2l-9.2 9.2M262.2 416.9l9.2 9.2m0 -9.2l-9.2 9.2M253.7 417.0l9.2 9.2m0 -9.2l-9.2 9.2M255.1 417.6l9.2 9.2m0 -9.2l-9.2 9.2M256.6 420.9l9.2 9.2m0 -9.2l-9.2 9.2M261.4 418.6l9.2 9.2m0 -9.2l-9.2 9.2M261.8 421.8l9.2 9.2m0 -9.2l-9.2 9.2M255.5 424.6l9.2 9.2m0 -9.2l-9.2 9.2M256.9 415.9l9.2 9.2m0 -9.2l-9.2 9.2M254.9 420.9l9.2 9.2m0 -9.2l-9.2 9.2M265.0 426.6l9.2 9.2m0 -9.2l-9.2 9.2M258.9 418.2l9.2 9.2m0 -9.2l-9.2 9.2M266.8 425.8l9.2 9.2m0 -9.2l-9.2 9.2M273.4 425.3l9.2 9.2m0 -9.2l-9.2 9.2M274.4 426.6l9.2 9.2m0 -9.2l-9.2 9.2M277.9 430.3l9.2 9.2m0 -9.2l-9.2 9.2M269.7 429.5l9.2 9.2m0 -9.2l-9.2 9.2M267.2 424.7l9.2 9.2m0 -9.2l-9.2 9.2M271.6 423.5l9.2 9.2m0 -9.2l-9.2 9.2M267.4 427.5l9.2 9.2m0 -9.2l-9.2 9.2M266.8 424.8l9.2 9.2m0 -9.2l-9.2 9.2M278.0 425.5l9.2 9.2m0 -9.2l-9.2 9.2M269.1 426.2l9.2 9.2m0 -9.2l-9.2 9.2M272.8 427.8l9.2 9.2m0 -9.2l-9.2 9.2M276.5 425.1l9.2 9.2m0 -9.2l-9.2 9.2M270.4 423.6l9.2 9.2m0 -9.2l-9.2 9.2M267.3 428.6l9.2 9.2m0 -9.2l-9.2 9.2M276.1 429.6l9.2 9.2m0 -9.2l-9.2 9.2M266.8 428.0l9.2 9.2m0 -9.2l-9.2 9.2M275.6 427.2l9.2 9.2m0 -9.2l-9.2 9.2M275.6 427.1l9.2 9.2m0 -9.2l-9.2 9.2M269.4 421.1l9.2 9.2m0 -9.2l-9.2 9.2M269.5 420.5l9.2 9.2m0 -9.2l-9.2 9.2M270.7 428.2l9.2 9.2m0 -9.2l-9.2 9.2M275.0 430.4l9.2 9.2m0 -9.2l-9.2 9.2M275.2 425.3l9.2 9.2m0 -9.2l-9.2 9.2M273.3 426.1l9.2 9.2m0 -9.2l-9.2 9.2M276.2 427.9l9.2 9.2m0 -9.2l-9.2 9.2M269.9 426.8l9.2 9.2m0 -9.2l-9.2 9.2M278.3 426.2l9.2 9.2m0 -9.2l-9.2 9.2M277.3 424.1l9.2 9.2m0 -9.2l-9.2 9.2M269.8 422.7l9.2 9.2m0 -9.2l-9.2 9.2M275.6 431.4l9.2 9.2m0 -9.2l-9.2 9.2M275.7 426.0l9.2 9.2m0 -9.2l-9.2 9.2M277.3 426.7l9.2 9.2m0 -9.2l-9.2 9.2M269.6 429.5l9.2 9.2m0 -9.2l-9.2 9.2M274.3 428.8l9.2 9.2m0 -9.2l-9.2 9.2M274.7 431.5l9.2 9.2m0 -9.2l-9.2 9.2M284.8 432.6l9.2 9.2m0 -9.2l-9.2 9.2M287.8 433.3l9.2 9.2m0 -9.2l-9.2 9.2M284.4 431.7l9.2 9.2m0 -9.2l-9.2 9.2M286.1 429.5l9.2 9.2m0 -9.2l-9.2 9.2M281.5 430.3l9.2 9.2m0 -9.2l-9.2 9.2M279.7 432.2l9.2 9.2m0 -9.2l-9.2 9.2M280.6 425.6l9.2 9.2m0 -9.2l-9.2 9.2M280.1 432.4l9.2 9.2m0 -9.2l-9.2 9.2M283.2 427.4l9.2 9.2m0 -9.2l-9.2 9.2M279.1 425.2l9.2 9.2m0 -9.2l-9.2 9.2M287.7 431.9l9.2 9.2m0 -9.2l-9.2 9.2M287.8 432.5l9.2 9.2m0 -9.2l-9.2 9.2M279.6 429.6l9.2 9.2m0 -9.2l-9.2 9.2M283.4 432.2l9.2 9.2m0 -9.2l-9.2 9.2M289.4 433.7l9.2 9.2m0 -9.2l-9.2 9.2M279.6 431.8l9.2 9.2m0 -9.2l-9.2 9.2M290.6 434.2l9.2 9.2m0 -9.2l-9.2 9.2M280.1 426.8l9.2 9.2m0 -9.2l-9.2 9.2M280.2 425.5l9.2 9.2m0 -9.2l-9.2 9.2M289.7 433.4l9.2 9.2m0 -9.2l-9.2 9.2M286.9 432.9l9.2 9.2m0 -9.2l-9.2 9.2M286.9 429.6l9.2 9.2m0 -9.2l-9.2 9.2M280.0 426.0l9.2 9.2m0 -9.2l-9.2 9.2M288.5 429.7l9.2 9.2m0 -9.2l-9.2 9.2M282.8 429.3l9.2 9.2m0 -9.2l-9.2 9.2M279.0 426.8l9.2 9.2m0 -9.2l-9.2 9.2M282.4 431.2l9.2 9.2m0 -9.2l-9.2 9.2M283.5 428.8l9.2 9.2m0 -9.2l-9.2 9.2M291.2 432.1l9.2 9.2m0 -9.2l-9.2 9.2M289.8 432.3l9.2 9.2m0 -9.2l-9.2 9.2M279.1 428.1l9.2 9.2m0 -9.2l-9.2 9.2M284.4 432.1l9.2 9.2m0 -9.2l-9.2 9.2M283.2 431.3l9.2 9.2m0 -9.2l-9.2 9.2M285.7 428.8l9.2 9.2m0 -9.2l-9.2 9.2M289.9 429.5l9.2 9.2m0 -9.2l-9.2 9.2M289.4 429.7l9.2 9.2m0 -9.2l-9.2 9.2M291.7 430.7l9.2 9.2m0 -9.2l-9.2 9.2M301.6 435.4l9.2 9.2m0 -9.2l-9.2 9.2M291.8 432.2l9.2 9.2m0 -9.2l-9.2 9.2M298.1 434.4l9.2 9.2m0 -9.2l-9.2 9.2M294.1 432.5l9.2 9.2m0 -9.2l-9.2 9.2M296.2 434.3l9.2 9.2m0 -9.2l-9.2 9.2M295.1 434.7l9.2 9.2m0 -9.2l-9.2 9.2M295.4 431.5l9.2 9.2m0 -9.2l-9.2 9.2M300.8 433.6l9.2 9.2m0 -9.2l-9.2 9.2M293.1 433.1l9.2 9.2m0 -9.2l-9.2 9.2M292.8 433.8l9.2 9.2m0 -9.2l-9.2 9.2M300.8 434.6l9.2 9.2m0 -9.2l-9.2 9.2M299.9 432.9l9.2 9.2m0 -9.2l-9.2 9.2M296.9 432.6l9.2 9.2m0 -9.2l-9.2 9.2M303.3 432.6l9.2 9.2m0 -9.2l-9.2 9.2M303.2 432.4l9.2 9.2m0 -9.2l-9.2 9.2M294.4 431.5l9.2 9.2m0 -9.2l-9.2 9.2M303.4 434.0l9.2 9.2m0 -9.2l-9.2 9.2M296.6 434.6l9.2 9.2m0 -9.2l-9.2 9.2M294.7 432.5l9.2 9.2m0 -9.2l-9.2 9.2M298.6 434.3l9.2 9.2m0 -9.2l-9.2 9.2M301.5 434.2l9.2 9.2m0 -9.2l-9.2 9.2M296.2 432.2l9.2 9.2m0 -9.2l-9.2 9.2M293.7 434.1l9.2 9.2m0 -9.2l-9.2 9.2M300.3 434.4l9.2 9.2m0 -9.2l-9.2 9.2M293.9 432.3l9.2 9.2m0 -9.2l-9.2 9.2M301.8 434.0l9.2 9.2m0 -9.2l-9.2 9.2M293.3 432.3l9.2 9.2m0 -9.2l-9.2 9.2M303.2 433.1l9.2 9.2m0 -9.2l-9.2 9.2M307.2 433.9l9.2 9.2m0 -9.2l-9.2 9.2M313.8 436.0l9.2 9.2m0 -9.2l-9.2 9.2M306.7 433.5l9.2 9.2m0 -9.2l-9.2 9.2M307.9 434.1l9.2 9.2m0 -9.2l-9.2 9.2M311.5 434.1l9.2 9.2m0 -9.2l-9.2 9.2M309.0 433.9l9.2 9.2m0 -9.2l-9.2 9.2M317.4 436.1l9.2 9.2m0 -9.2l-9.2 9.2M306.0 435.7l9.2 9.2m0 -9.2l-9.2 9.2M306.0 434.0l9.2 9.2m0 -9.2l-9.2 9.2M317.5 436.3l9.2 9.2m0 -9.2l-9.2 9.2M314.2 435.2l9.2 9.2m0 -9.2l-9.2 9.2M307.3 434.9l9.2 9.2m0 -9.2l-9.2 9.2M306.1 433.5l9.2 9.2m0 -9.2l-9.2 9.2M309.7 433.6l9.2 9.2m0 -9.2l-9.2 9.2M309.9 435.6l9.2 9.2m0 -9.2l-9.2 9.2M313.7 435.2l9.2 9.2m0 -9.2l-9.2 9.2M312.9 435.1l9.2 9.2m0 -9.2l-9.2 9.2M306.5 434.7l9.2 9.2m0 -9.2l-9.2 9.2M310.0 435.4l9.2 9.2m0 -9.2l-9.2 9.2M316.5 435.4l9.2 9.2m0 -9.2l-9.2 9.2M312.2 435.7l9.2 9.2m0 -9.2l-9.2 9.2M310.2 434.1l9.2 9.2m0 -9.2l-9.2 9.2M314.1 436.1l9.2 9.2m0 -9.2l-9.2 9.2M327.8 436.3l9.2 9.2m0 -9.2l-9.2 9.2M328.8 436.3l9.2 9.2m0 -9.2l-9.2 9.2M326.0 436.0l9.2 9.2m0 -9.2l-9.2 9.2M321.8 436.1l9.2 9.2m0 -9.2l-9.2 9.2M319.0 435.6l9.2 9.2m0 -9.2l-9.2 9.2M327.9 436.4l9.2 9.2m0 -9.2l-9.2 9.2M325.9 435.7l9.2 9.2m0 -9.2l-9.2 9.2M323.2 435.8l9.2 9.2m0 -9.2l-9.2 9.2M325.8 435.9l9.2 9.2m0 -9.2l-9.2 9.2M326.5 436.6l9.2 9.2m0 -9.2l-9.2 9.2M320.1 436.1l9.2 9.2m0 -9.2l-9.2 9.2M327.8 436.0l9.2 9.2m0 -9.2l-9.2 9.2M324.1 436.7l9.2 9.2m0 -9.2l-9.2 9.2M318.2 435.8l9.2 9.2m0 -9.2l-9.2 9.2M319.8 436.3l9.2 9.2m0 -9.2l-9.2 9.2M329.9 436.2l9.2 9.2m0 -9.2l-9.2 9.2M192.7 385.7l9.2 9.2m0 -9.2l-9.2 9.2M200.7 393.7l9.2 9.2m0 -9.2l-9.2 9.2M207.7 399.7l9.2 9.2m0 -9.2l-9.2 9.2M217.7 404.7l9.2 9.2m0 -9.2l-9.2 9.2M185.7 381.7l9.2 9.2m0 -9.2l-9.2 9.2" stroke="#00f" stroke-width="1.5" stroke-linecap="round" fill="none"/>
<path d="M389.9 422.1a7.0 7.0 0 1 0 14.0 0a7.0 7.0 0 1 0 -14.0 0M389.9 439.7a7.0 7.0 0 1 0 14.0 0a7.0 7.0 0 1 0 -14.0 0M404.6 437.5a7.0 7.0 0 1 0 14.0 0a7.0 7.0 0 1 0 -14.0 0M444.1 430.9a7.0 7.0 0 1 0 14.0 0a7.0 7.0 0 1 0 -14.0 0M459.5 424.3a7.0 7.0 0 1 0 14.0 0a7.0 7.0 0 1 0 -14.0 0M471.3 428.7a7.0 7.0 0 1 0 14.0 0a7.0 7.0 0 1 0 -14.0 0M482.3 425.8a7.0 7.0 0 1 0 14.0 0a7.0 7.0 0 1 0 -14.0 0M485.3 436.8a7.0 7.0 0 1 0 14.0 0a7.0 7.0 0 1 0 -14.0 0M491.9 436.1a7.0 7.0 0 1 0 14.0 0a7.0 7.0 0 1 0 -14.0 0M506.5 436.1a7.0 7.0 0 1 0 14.0 0a7.0 7.0 0 1 0 -14.0 0M514.6 435.3a7.0 7.0 0 1 0 14.0 0a7.0 7.0 0 1 0 -14.0 0M510.3 437.3a7.0 7.0 0 1 0 14.0 0a7.0 7.0 0 1 0 -14.0 0M355.3 435.3a7.0 7.0 0 1 0 14.0 0a7.0 7.0 0 1 0 -14.0 0M365.3 438.3a7.0 7.0 0 1 0 14.0 0a7.0 7.0 0 1 0 -14.0 0M378.3 438.3a7.0 7.0 0 1 0 14.0 0a7.0 7.0 0 1 0 -14.0 0M625.3 428.9a7.0 7.0 0 1 0 14.0 0a7.0 7.0 0 1 0 -14.0 0M634.3 428.6a7.0 7.0 0 1 0 14.0 0a7.0 7.0 0 1 0 -14.0 0M671.3 429.9a7.0 7.0 0 1 0 14.0 0a7.0 7.0 0 1 0 -14.0 0M657.3 430.3a7.0 7.0 0 1 0 14.0 0a7.0 7.0 0 1 0 -14.0 0M540.3 436.8a7.0 7.0 0 1 0 14.0 0a7.0 7.0 0 1 0 -14.0 0M542.8 435.8a7.0 7.0 0 1 0 14.0 0a7.0 7.0 0 1 0 -14.0 0M545.3 436.3a7.0 7.0 0 1 0 14.0 0a7.0 7.0 0 1 0 -14.0 0M548.3 435.3a7.0 7.0 0 1 0 14.0 0a7.0 7.0 0 1 0 -14.0 0M551.3 436.3a7.0 7.0 0 1 0 14.0 0a7.0 7.0 0 1 0 -14.0 0M555.3 434.8a7.0 7.0 0 1 0 14.0 0a7.0 7.0 0 1 0 -14.0 0M559.3 435.8a7.0 7.0 0 1 0 14.0 0a7.0 7.0 0 1 0 -14.0 0M563.3 434.3a7.0 7.0 0 1 0 14.0 0a7.0 7.0 0 1 0 -14.0 0M565.4 434.1a7.0 7.0 0 1 0 14.0 0a7.0 7.0 0 1 0 -14.0 0M580.5 435.5a7.0 7.0 0 1 0 14.0 0a7.0 7.0 0 1 0 -14.0 0M577.3 432.9a7.0 7.0 0 1 0 14.0 0a7.0 7.0 0 1 0 -14.0 0M574.3 435.4a7.0 7.0 0 1 0 14.0 0a7.0 7.0 0 1 0 -14.0 0M570.1 436.1a7.0 7.0 0 1 0 14.0 0a7.0 7.0 0 1 0 -14.0 0M574.9 438.3a7.0 7.0 0 1 0 14.0 0a7.0 7.0 0 1 0 -14.0 0M575.6 434.4a7.0 7.0 0 1 0 14.0 0a7.0 7.0 0 1 0 -14.0 0M567.5 433.1a7.0 7.0 0 1 0 14.0 0a7.0 7.0 0 1 0 -14.0 0M579.0 432.3a7.0 7.0 0 1 0 14.0 0a7.0 7.0 0 1 0 -14.0 0M567.1 433.2a7.0 7.0 0 1 0 14.0 0a7.0 7.0 0 1 0 -14.0 0M574.7 437.1a7.0 7.0 0 1 0 14.0 0a7.0 7.0 0 1 0 -14.0 0M576.3 437.0a7.0 7.0 0 1 0 14.0 0a7.0 7.0 0 1 0 -14.0 0M566.4 432.3a7.0 7.0 0 1 0 14.0 0a7.0 7.0 0 1 0 -14.0 0M579.2 433.7a7.0 7.0 0 1 0 14.0 0a7.0 7.0 0 1 0 -14.0 0M578.2 434.0a7.0 7.0 0 1 0 14.0 0a7.0 7.0 0 1 0 -14.0 0M568.3 433.8a7.0 7.0 0 1 0 14.0 0a7.0 7.0 0 1 0 -14.0 0M567.1 437.7a7.0 7.0 0 1 0 14.0 0a7.0 7.0 0 1 0 -14.0 0M575.8 434.0a7.0 7.0 0 1 0 14.0 0a7.0 7.0 0 1 0 -14.0 0M573.4 434.3a7.0 7.0 0 1 0 14.0 0a7.0 7.0 0 1 0 -14.0 0M566.3 437.6a7.0 7.0 0 1 0 14.0 0a7.0 7.0 0 1 0 -14.0 0M575.8 438.0a7.0 7.0 0 1 0 14.0 0a7.0 7.0 0 1 0 -14.0 0M573.2 435.9a7.0 7.0 0 1 0 14.0 0a7.0 7.0 0 1 0 -14.0 0M588.3 431.6a7.0 7.0 0 1 0 14.0 0a7.0 7.0 0 1 0 -14.0 0M601.9 437.3a7.0 7.0 0 1 0 14.0 0a7.0 7.0 0 1 0 -14.0 0M589.6 437.6a7.0 7.0 0 1 0 14.0 0a7.0 7.0 0 1 0 -14.0 0M599.6 433.4a7.0 7.0 0 1 0 14.0 0a7.0 7.0 0 1 0 -14.0 0M595.4 438.0a7.0 7.0 0 1 0 14.0 0a7.0 7.0 0 1 0 -14.0 0M593.2 437.9a7.0 7.0 0 1 0 14.0 0a7.0 7.0 0 1 0 -14.0 0M588.2 434.0a7.0 7.0 0 1 0 14.0 0a7.0 7.0 0 1 0 -14.0 0M597.7 432.8a7.0 7.0 0 1 0 14.0 0a7.0 7.0 0 1 0 -14.0 0M589.5 437.4a7.0 7.0 0 1 0 14.0 0a7.0 7.0 0 1 0 -14.0 0M593.0 436.8a7.0 7.0 0 1 0 14.0 0a7.0 7.0 0 1 0 -14.0 0M588.2 432.5a7.0 7.0 0 1 0 14.0 0a7.0 7.0 0 1 0 -14.0 0M590.5 432.6a7.0 7.0 0 1 0 14.0 0a7.0 7.0 0 1 0 -14.0 0M602.7 433.3a7.0 7.0 0 1 0 14.0 0a7.0 7.0 0 1 0 -14.0 0M594.5 432.1a7.0 7.0 0 1 0 14.0 0a7.0 7.0 0 1 0 -14.0 0M594.0 434.0a7.0 7.0 0 1 0 14.0 0a7.0 7.0 0 1 0 -14.0 0M591.4 431.8a7.0 7.0 0 1 0 14.0 0a7.0 7.0 0 1 0 -14.0 0M585.8 437.1a7.0 7.0 0 1 0 14.0 0a7.0 7.0 0 1 0 -14.0 0M590.3 433.0a7.0 7.0 0 1 0 14.0 0a7.0 7.0 0 1 0 -14.0 0M587.1 433.3a7.0 7.0 0 1 0 14.0 0a7.0 7.0 0 1 0 -14.0 0M588.0 431.5a7.0 7.0 0 1 0 14.0 0a7.0 7.0 0 1 0 -14.0 0M596.6 433.7a7.0 7.0 0 1 0 14.0 0a7.0 7.0 0 1 0 -14.0 0M586.4 436.2a7.0 7.0 0 1 0 14.0 0a7.0 7.0 0 1 0 -14.0 0M585.2 433.2a7.0 7.0 0 1 0 14.0 0a7.0 7.0 0 1 0 -14.0 0M600.0 432.2a7.0 7.0 0 1 0 14.0 0a7.0 7.0 0 1 0 -14.0 0M592.2 437.2a7.0 7.0 0 1 0 14.0 0a7.0 7.0 0 1 0 -14.0 0M599.4 432.4a7.0 7.0 0 1 0 14.0 0a7.0 7.0 0 1 0 -14.0 0M590.4 436.4a7.0 7.0 0 1 0 14.0 0a7.0 7.0 0 1 0 -14.0 0M590.8 438.0a7.0 7.0 0 1 0 14.0 0a7.0 7.0 0 1 0 -14.0 0M587.5 438.0a7.0 7.0 0 1 0 14.0 0a7.0 7.0 0 1 0 -14.0 0M593.4 432.9a7.0 7.0 0 1 0 14.0 0a7.0 7.0 0 1 0 -14.0 0M592.4 432.2a7.0 7.0 0 1 0 14.0 0a7.0 7.0 0 1 0 -14.0 0M597.4 433.1a7.0 7.0 0 1 0 14.0 0a7.0 7.0 0 1 0 -14.0 0M601.3 435.4a7.0 7.0 0 1 0 14.0 0a7.0 7.0 0 1 0 -14.0 0M590.7 433.0a7.0 7.0 0 1 0 14.0 0a7.0 7.0 0 1 0 -14.0 0M595.5 432.8a7.0 7.0 0 1 0 14.0 0a7.0 7.0 0 1 0 -14.0 0M600.7 432.2a7.0 7.0 0 1 0 14.0 0a7.0 7.0 0 1 0 -14.0 0M618.7 434.6a7.0 7.0 0 1 0 14.0 0a7.0 7.0 0 1 0 -14.0 0M611.4 436.4a7.0 7.0 0 1 0 14.0 0a7.0 7.0 0 1 0 -14.0 0M614.8 435.5a7.0 7.0 0 1 0 14.0 0a7.0 7.0 0 1 0 -14.0 0M620.3 432.9a7.0 7.0 0 1 0 14.0 0a7.0 7.0 0 1 0 -14.0 0M615.0 431.5a7.0 7.0 0 1 0 14.0 0a7.0 7.0 0 1 0 -14.0 0M608.6 437.1a7.0 7.0 0 1 0 14.0 0a7.0 7.0 0 1 0 -14.0 0M612.9 435.6a7.0 7.0 0 1 0 14.0 0a7.0 7.0 0 1 0 -14.0 0M606.6 435.1a7.0 7.0 0 1 0 14.0 0a7.0 7.0 0 1 0 -14.0 0M614.1 434.4a7.0 7.0 0 1 0 14.0 0a7.0 7.0 0 1 0 -14.0 0M612.2 431.5a7.0 7.0 0 1 0 14.0 0a7.0 7.0 0 1 0 -14.0 0M612.6 432.6a7.0 7.0 0 1 0 14.0 0a7.0 7.0 0 1 0 -14.0 0M607.1 436.2a7.0 7.0 0 1 0 14.0 0a7.0 7.0 0 1 0 -14.0 0M611.8 433.8a7.0 7.0 0 1 0 14.0 0a7.0 7.0 0 1 0 -14.0 0M630.6 435.8a7.0 7.0 0 1 0 14.0 0a7.0 7.0 0 1 0 -14.0 0M629.8 436.4a7.0 7.0 0 1 0 14.0 0a7.0 7.0 0 1 0 -14.0 0M607.3 433.1a7.0 7.0 0 1 0 14.0 0a7.0 7.0 0 1 0 -14.0 0M604.2 436.0a7.0 7.0 0 1 0 14.0 0a7.0 7.0 0 1 0 -14.0 0M623.2 433.1a7.0 7.0 0 1 0 14.0 0a7.0 7.0 0 1 0 -14.0 0M615.7 435.5a7.0 7.0 0 1 0 14.0 0a7.0 7.0 0 1 0 -14.0 0M624.3 432.3a7.0 7.0 0 1 0 14.0 0a7.0 7.0 0 1 0 -14.0 0M628.7 432.9a7.0 7.0 0 1 0 14.0 0a7.0 7.0 0 1 0 -14.0 0M622.2 431.9a7.0 7.0 0 1 0 14.0 0a7.0 7.0 0 1 0 -14.0 0M606.8 437.6a7.0 7.0 0 1 0 14.0 0a7.0 7.0 0 1 0 -14.0 0M625.3 435.6a7.0 7.0 0 1 0 14.0 0a7.0 7.0 0 1 0 -14.0 0M604.5 431.5a7.0 7.0 0 1 0 14.0 0a7.0 7.0 0 1 0 -14.0 0M608.2 432.5a7.0 7.0 0 1 0 14.0 0a7.0 7.0 0 1 0 -14.0 0M612.4 433.7a7.0 7.0 0 1 0 14.0 0a7.0 7.0 0 1 0 -14.0 0M604.5 433.4a7.0 7.0 0 1 0 14.0 0a7.0 7.0 0 1 0 -14.0 0M622.4 431.9a7.0 7.0 0 1 0 14.0 0a7.0 7.0 0 1 0 -14.0 0M628.5 434.5a7.0 7.0 0 1 0 14.0 0a7.0 7.0 0 1 0 -14.0 0M624.8 432.4a7.0 7.0 0 1 0 14.0 0a7.0 7.0 0 1 0 -14.0 0M616.3 435.7a7.0 7.0 0 1 0 14.0 0a7.0 7.0 0 1 0 -14.0 0M613.8 431.0a7.0 7.0 0 1 0 14.0 0a7.0 7.0 0 1 0 -14.0 0M628.3 435.9a7.0 7.0 0 1 0 14.0 0a7.0 7.0 0 1 0 -14.0 0M611.9 431.3a7.0 7.0 0 1 0 14.0 0a7.0 7.0 0 1 0 -14.0 0M628.9 434.7a7.0 7.0 0 1 0 14.0 0a7.0 7.0 0 1 0 -14.0 0M604.7 433.0a7.0 7.0 0 1 0 14.0 0a7.0 7.0 0 1 0 -14.0 0M606.6 436.7a7.0 7.0 0 1 0 14.0 0a7.0 7.0 0 1 0 -14.0 0M609.6 437.5a7.0 7.0 0 1 0 14.0 0a7.0 7.0 0 1 0 -14.0 0M625.8 431.2a7.0 7.0 0 1 0 14.0 0a7.0 7.0 0 1 0 -14.0 0M624.1 433.4a7.0 7.0 0 1 0 14.0 0a7.0 7.0 0 1 0 -14.0 0M625.7 436.4a7.0 7.0 0 1 0 14.0 0a7.0 7.0 0 1 0 -14.0 0M611.7 431.6a7.0 7.0 0 1 0 14.0 0a7.0 7.0 0 1 0 -14.0 0M631.7 433.3a7.0 7.0 0 1 0 14.0 0a7.0 7.0 0 1 0 -14.0 0M631.2 435.2a7.0 7.0 0 1 0 14.0 0a7.0 7.0 0 1 0 -14.0 0M625.5 436.4a7.0 7.0 0 1 0 14.0 0a7.0 7.0 0 1 0 -14.0 0M622.1 433.8a7.0 7.0 0 1 0 14.0 0a7.0 7.0 0 1 0 -14.0 0M604.9 436.1a7.0 7.0 0 1 0 14.0 0a7.0 7.0 0 1 0 -14.0 0M616.2 434.5a7.0 7.0 0 1 0 14.0 0a7.0 7.0 0 1 0 -14.0 0M631.1 431.3a7.0 7.0 0 1 0 14.0 0a7.0 7.0 0 1 0 -14.0 0M626.2 430.8a7.0 7.0 0 1 0 14.0 0a7.0 7.0 0 1 0 -14.0 0M624.4 436.2a7.0 7.0 0 1 0 14.0 0a7.0 7.0 0 1 0 -14.0 0M611.1 434.9a7.0 7.0 0 1 0 14.0 0a7.0 7.0 0 1 0 -14.0 0M632.4 434.8a7.0 7.0 0 1 0 14.0 0a7.0 7.0 0 1 0 -14.0 0M619.6 432.5a7.0 7.0 0 1 0 14.0 0a7.0 7.0 0 1 0 -14.0 0M605.1 433.7a7.0 7.0 0 1 0 14.0 0a7.0 7.0 0 1 0 -14.0 0M615.6 432.3a7.0 7.0 0 1 0 14.0 0a7.0 7.0 0 1 0 -14.0 0M612.6 431.9a7.0 7.0 0 1 0 14.0 0a7.0 7.0 0 1 0 -14.0 0M624.5 435.3a7.0 7.0 0 1 0 14.0 0a7.0 7.0 0 1 0 -14.0 0M610.4 432.8a7.0 7.0 0 1 0 14.0 0a7.0 7.0 0 1 0 -14.0 0M618.8 433.9a7.0 7.0 0 1 0 14.0 0a7.0 7.0 0 1 0 -14.0 0M631.4 432.8a7.0 7.0 0 1 0 14.0 0a7.0 7.0 0 1 0 -14.0 0M612.3 437.2a7.0 7.0 0 1 0 14.0 0a7.0 7.0 0 1 0 -14.0 0M607.6 435.1a7.0 7.0 0 1 0 14.0 0a7.0 7.0 0 1 0 -14.0 0M613.3 436.7a7.0 7.0 0 1 0 14.0 0a7.0 7.0 0 1 0 -14.0 0M619.7 436.1a7.0 7.0 0 1 0 14.0 0a7.0 7.0 0 1 0 -14.0 0M608.4 435.8a7.0 7.0 0 1 0 14.0 0a7.0 7.0 0 1 0 -14.0 0M621.3 433.9a7.0 7.0 0 1 0 14.0 0a7.0 7.0 0 1 0 -14.0 0M663.9 436.2a7.0 7.0 0 1 0 14.0 0a7.0 7.0 0 1 0 -14.0 0M637.9 432.4a7.0 7.0 0 1 0 14.0 0a7.0 7.0 0 1 0 -14.0 0M647.7 432.0a7.0 7.0 0 1 0 14.0 0a7.0 7.0 0 1 0 -14.0 0M635.7 432.3a7.0 7.0 0 1 0 14.0 0a7.0 7.0 0 1 0 -14.0 0M641.2 435.3a7.0 7.0 0 1 0 14.0 0a7.0 7.0 0 1 0 -14.0 0M651.2 431.5a7.0 7.0 0 1 0 14.0 0a7.0 7.0 0 1 0 -14.0 0M646.3 433.8a7.0 7.0 0 1 0 14.0 0a7.0 7.0 0 1 0 -14.0 0M647.8 431.8a7.0 7.0 0 1 0 14.0 0a7.0 7.0 0 1 0 -14.0 0M636.2 430.4a7.0 7.0 0 1 0 14.0 0a7.0 7.0 0 1 0 -14.0 0M673.0 435.8a7.0 7.0 0 1 0 14.0 0a7.0 7.0 0 1 0 -14.0 0M636.7 435.3a7.0 7.0 0 1 0 14.0 0a7.0 7.0 0 1 0 -14.0 0M672.5 434.7a7.0 7.0 0 1 0 14.0 0a7.0 7.0 0 1 0 -14.0 0M637.7 433.8a7.0 7.0 0 1 0 14.0 0a7.0 7.0 0 1 0 -14.0 0M650.7 432.0a7.0 7.0 0 1 0 14.0 0a7.0 7.0 0 1 0 -14.0 0M655.0 430.9a7.0 7.0 0 1 0 14.0 0a7.0 7.0 0 1 0 -14.0 0M670.1 435.1a7.0 7.0 0 1 0 14.0 0a7.0 7.0 0 1 0 -14.0 0M658.4 436.9a7.0 7.0 0 1 0 14.0 0a7.0 7.0 0 1 0 -14.0 0M659.4 432.5a7.0 7.0 0 1 0 14.0 0a7.0 7.0 0 1 0 -14.0 0M643.1 431.5a7.0 7.0 0 1 0 14.0 0a7.0 7.0 0 1 0 -14.0 0M634.4 435.7a7.0 7.0 0 1 0 14.0 0a7.0 7.0 0 1 0 -14.0 0M666.9 433.0a7.0 7.0 0 1 0 14.0 0a7.0 7.0 0 1 0 -14.0 0M640.7 434.8a7.0 7.0 0 1 0 14.0 0a7.0 7.0 0 1 0 -14.0 0M667.1 436.8a7.0 7.0 0 1 0 14.0 0a7.0 7.0 0 1 0 -14.0 0M640.0 435.8a7.0 7.0 0 1 0 14.0 0a7.0 7.0 0 1 0 -14.0 0M666.5 435.7a7.0 7.0 0 1 0 14.0 0a7.0 7.0 0 1 0 -14.0 0M646.4 431.9a7.0 7.0 0 1 0 14.0 0a7.0 7.0 0 1 0 -14.0 0M666.3 433.1a7.0 7.0 0 1 0 14.0 0a7.0 7.0 0 1 0 -14.0 0M648.0 434.3a7.0 7.0 0 1 0 14.0 0a7.0 7.0 0 1 0 -14.0 0M648.1 436.2a7.0 7.0 0 1 0 14.0 0a7.0 7.0 0 1 0 -14.0 0M642.9 430.8a7.0 7.0 0 1 0 14.0 0a7.0 7.0 0 1 0 -14.0 0M656.0 434.9a7.0 7.0 0 1 0 14.0 0a7.0 7.0 0 1 0 -14.0 0M666.1 435.5a7.0 7.0 0 1 0 14.0 0a7.0 7.0 0 1 0 -14.0 0M669.5 437.0a7.0 7.0 0 1 0 14.0 0a7.0 7.0 0 1 0 -14.0 0M653.1 434.0a7.0 7.0 0 1 0 14.0 0a7.0 7.0 0 1 0 -14.0 0M639.6 432.5a7.0 7.0 0 1 0 14.0 0a7.0 7.0 0 1 0 -14.0 0M656.5 431.4a7.0 7.0 0 1 0 14.0 0a7.0 7.0 0 1 0 -14.0 0M660.8 432.0a7.0 7.0 0 1 0 14.0 0a7.0 7.0 0 1 0 -14.0 0M651.0 437.1a7.0 7.0 0 1 0 14.0 0a7.0 7.0 0 1 0 -14.0 0M636.9 430.7a7.0 7.0 0 1 0 14.0 0a7.0 7.0 0 1 0 -14.0 0M650.9 432.0a7.0 7.0 0 1 0 14.0 0a7.0 7.0 0 1 0 -14.0 0M662.2 431.0a7.0 7.0 0 1 0 14.0 0a7.0 7.0 0 1 0 -14.0 0M666.9 436.4a7.0 7.0 0 1 0 14.0 0a7.0 7.0 0 1 0 -14.0 0M664.8 433.7a7.0 7.0 0 1 0 14.0 0a7.0 7.0 0 1 0 -14.0 0M644.6 435.0a7.0 7.0 0 1 0 14.0 0a7.0 7.0 0 1 0 -14.0 0M653.9 433.5a7.0 7.0 0 1 0 14.0 0a7.0 7.0 0 1 0 -14.0 0M646.8 433.6a7.0 7.0 0 1 0 14.0 0a7.0 7.0 0 1 0 -14.0 0M659.9 436.2a7.0 7.0 0 1 0 14.0 0a7.0 7.0 0 1 0 -14.0 0M669.5 432.2a7.0 7.0 0 1 0 14.0 0a7.0 7.0 0 1 0 -14.0 0M645.1 433.6a7.0 7.0 0 1 0 14.0 0a7.0 7.0 0 1 0 -14.0 0M655.8 433.1a7.0 7.0 0 1 0 14.0 0a7.0 7.0 0 1 0 -14.0 0M641.1 431.1a7.0 7.0 0 1 0 14.0 0a7.0 7.0 0 1 0 -14.0 0M646.2 433.7a7.0 7.0 0 1 0 14.0 0a7.0 7.0 0 1 0 -14.0 0M672.2 436.7a7.0 7.0 0 1 0 14.0 0a7.0 7.0 0 1 0 -14.0 0M667.9 437.1a7.0 7.0 0 1 0 14.0 0a7.0 7.0 0 1 0 -14.0 0M671.8 435.0a7.0 7.0 0 1 0 14.0 0a7.0 7.0 0 1 0 -14.0 0M665.7 431.5a7.0 7.0 0 1 0 14.0 0a7.0 7.0 0 1 0 -14.0 0M660.4 434.8a7.0 7.0 0 1 0 14.0 0a7.0 7.0 0 1 0 -14.0 0M645.2 434.4a7.0 7.0 0 1 0 14.0 0a7.0 7.0 0 1 0 -14.0 0M671.4 434.2a7.0 7.0 0 1 0 14.0 0a7.0 7.0 0 1 0 -14.0 0M659.2 432.8a7.0 7.0 0 1 0 14.0 0a7.0 7.0 0 1 0 -14.0 0M647.0 436.5a7.0 7.0 0 1 0 14.0 0a7.0 7.0 0 1 0 -14.0 0M634.4 431.6a7.0 7.0 0 1 0 14.0 0a7.0 7.0 0 1 0 -14.0 0M660.4 433.8a7.0 7.0 0 1 0 14.0 0a7.0 7.0 0 1 0 -14.0 0M636.7 435.0a7.0 7.0 0 1 0 14.0 0a7.0 7.0 0 1 0 -14.0 0M648.2 434.5a7.0 7.0 0 1 0 14.0 0a7.0 7.0 0 1 0 -14.0 0M650.0 434.2a7.0 7.0 0 1 0 14.0 0a7.0 7.0 0 1 0 -14.0 0M655.9 433.4a7.0 7.0 0 1 0 14.0 0a7.0 7.0 0 1 0 -14.0 0M637.9 431.7a7.0 7.0 0 1 0 14.0 0a7.0 7.0 0 1 0 -14.0 0M668.9 434.5a7.0 7.0 0 1 0 14.0 0a7.0 7.0 0 1 0 -14.0 0M637.8 436.4a7.0 7.0 0 1 0 14.0 0a7.0 7.0 0 1 0 -14.0 0M643.4 431.2a7.0 7.0 0 1 0 14.0 0a7.0 7.0 0 1 0 -14.0 0M654.5 432.5a7.0 7.0 0 1 0 14.0 0a7.0 7.0 0 1 0 -14.0 0M652.9 434.4a7.0 7.0 0 1 0 14.0 0a7.0 7.0 0 1 0 -14.0 0M642.4 434.4a7.0 7.0 0 1 0 14.0 0a7.0 7.0 0 1 0 -14.0 0M637.8 433.9a7.0 7.0 0 1 0 14.0 0a7.0 7.0 0 1 0 -14.0 0M656.8 431.4a7.0 7.0 0 1 0 14.0 0a7.0 7.0 0 1 0 -14.0 0M649.6 431.2a7.0 7.0 0 1 0 14.0 0a7.0 7.0 0 1 0 -14.0 0M650.9 436.4a7.0 7.0 0 1 0 14.0 0a7.0 7.0 0 1 0 -14.0 0M655.3 435.5a7.0 7.0 0 1 0 14.0 0a7.0 7.0 0 1 0 -14.0 0M663.6 431.8a7.0 7.0 0 1 0 14.0 0a7.0 7.0 0 1 0 -14.0 0M672.9 435.6a7.0 7.0 0 1 0 14.0 0a7.0 7.0 0 1 0 -14.0 0M637.4 436.1a7.0 7.0 0 1 0 14.0 0a7.0 7.0 0 1 0 -14.0 0M649.0 431.8a7.0 7.0 0 1 0 14.0 0a7.0 7.0 0 1 0 -14.0 0M671.7 434.7a7.0 7.0 0 1 0 14.0 0a7.0 7.0 0 1 0 -14.0 0M664.3 431.9a7.0 7.0 0 1 0 14.0 0a7.0 7.0 0 1 0 -14.0 0M664.3 431.4a7.0 7.0 0 1 0 14.0 0a7.0 7.0 0 1 0 -14.0 0M642.8 433.1a7.0 7.0 0 1 0 14.0 0a7.0 7.0 0 1 0 -14.0 0M633.9 434.5a7.0 7.0 0 1 0 14.0 0a7.0 7.0 0 1 0 -14.0 0M641.8 432.5a7.0 7.0 0 1 0 14.0 0a7.0 7.0 0 1 0 -14.0 0M661.6 433.7a7.0 7.0 0 1 0 14.0 0a7.0 7.0 0 1 0 -14.0 0M687.5 435.4a7.0 7.0 0 1 0 14.0 0a7.0 7.0 0 1 0 -14.0 0M687.3 435.1a7.0 7.0 0 1 0 14.0 0a7.0 7.0 0 1 0 -14.0 0M688.0 436.6a7.0 7.0 0 1 0 14.0 0a7.0 7.0 0 1 0 -14.0 0M676.0 435.8a7.0 7.0 0 1 0 14.0 0a7.0 7.0 0 1 0 -14.0 0M678.8 436.0a7.0 7.0 0 1 0 14.0 0a7.0 7.0 0 1 0 -14.0 0M684.2 436.4a7.0 7.0 0 1 0 14.0 0a7.0 7.0 0 1 0 -14.0 0M675.3 433.6a7.0 7.0 0 1 0 14.0 0a7.0 7.0 0 1 0 -14.0 0M685.1 437.0a7.0 7.0 0 1 0 14.0 0a7.0 7.0 0 1 0 -14.0 0M684.8 432.3a7.0 7.0 0 1 0 14.0 0a7.0 7.0 0 1 0 -14.0 0M683.0 432.4a7.0 7.0 0 1 0 14.0 0a7.0 7.0 0 1 0 -14.0 0M682.1 436.2a7.0 7.0 0 1 0 14.0 0a7.0 7.0 0 1 0 -14.0 0M675.1 436.9a7.0 7.0 0 1 0 14.0 0a7.0 7.0 0 1 0 -14.0 0M684.1 433.3a7.0 7.0 0 1 0 14.0 0a7.0 7.0 0 1 0 -14.0 0M676.4 434.1a7.0 7.0 0 1 0 14.0 0a7.0 7.0 0 1 0 -14.0 0M686.7 435.1a7.0 7.0 0 1 0 14.0 0a7.0 7.0 0 1 0 -14.0 0M675.1 431.5a7.0 7.0 0 1 0 14.0 0a7.0 7.0 0 1 0 -14.0 0M675.1 436.1a7.0 7.0 0 1 0 14.0 0a7.0 7.0 0 1 0 -14.0 0M676.3 434.7a7.0 7.0 0 1 0 14.0 0a7.0 7.0 0 1 0 -14.0 0M677.9 435.5a7.0 7.0 0 1 0 14.0 0a7.0 7.0 0 1 0 -14.0 0M679.4 432.5a7.0 7.0 0 1 0 14.0 0a7.0 7.0 0 1 0 -14.0 0M687.3 434.9a7.0 7.0 0 1 0 14.0 0a7.0 7.0 0 1 0 -14.0 0M684.3 436.3a7.0 7.0 0 1 0 14.0 0a7.0 7.0 0 1 0 -14.0 0" stroke="#00f" stroke-width="1.5" fill="none"/>
<path d="M88.6 441.7l9.2 9.2m0 -9.2l-9.2 9.2M105.5 441.7l9.2 9.2m0 -9.2l-9.2 9.2M108.6 441.7l9.2 9.2m0 -9.2l-9.2 9.2M111.7 441.7l9.2 9.2m0 -9.2l-9.2 9.2M116.4 441.7l9.2 9.2m0 -9.2l-9.2 9.2M119.5 441.7l9.2 9.2m0 -9.2l-9.2 9.2M122.7 441.7l9.2 9.2m0 -9.2l-9.2 9.2M125.8 441.7l9.2 9.2m0 -9.2l-9.2 9.2M129.7 441.7l9.2 9.2m0 -9.2l-9.2 9.2M151.9 441.7l9.2 9.2m0 -9.2l-9.2 9.2M163.7 441.7l9.2 9.2m0 -9.2l-9.2 9.2M170.2 441.4l9.2 9.2m0 -9.2l-9.2 9.2M171.0 441.8l9.2 9.2m0 -9.2l-9.2 9.2M171.8 441.7l9.2 9.2m0 -9.2l-9.2 9.2M172.6 441.9l9.2 9.2m0 -9.2l-9.2 9.2M173.4 441.7l9.2 9.2m0 -9.2l-9.2 9.2M174.2 441.8l9.2 9.2m0 -9.2l-9.2 9.2M175.0 442.0l9.2 9.2m0 -9.2l-9.2 9.2M175.8 441.7l9.2 9.2m0 -9.2l-9.2 9.2M176.6 441.6l9.2 9.2m0 -9.2l-9.2 9.2M177.4 442.1l9.2 9.2m0 -9.2l-9.2 9.2M178.2 441.5l9.2 9.2m0 -9.2l-9.2 9.2M179.0 441.8l9.2 9.2m0 -9.2l-9.2 9.2M179.8 441.6l9.2 9.2m0 -9.2l-9.2 9.2M180.6 441.9l9.2 9.2m0 -9.2l-9.2 9.2M181.4 441.4l9.2 9.2m0 -9.2l-9.2 9.2M182.2 442.1l9.2 9.2m0 -9.2l-9.2 9.2M183.0 441.6l9.2 9.2m0 -9.2l-9.2 9.2M183.8 441.3l9.2 9.2m0 -9.2l-9.2 9.2M184.6 441.5l9.2 9.2m0 -9.2l-9.2 9.2M185.4 441.6l9.2 9.2m0 -9.2l-9.2 9.2M186.2 441.3l9.2 9.2m0 -9.2l-9.2 9.2M187.0 441.6l9.2 9.2m0 -9.2l-9.2 9.2M187.8 441.6l9.2 9.2m0 -9.2l-9.2 9.2M188.6 441.9l9.2 9.2m0 -9.2l-9.2 9.2M189.4 441.6l9.2 9.2m0 -9.2l-9.2 9.2M190.2 441.5l9.2 9.2m0 -9.2l-9.2 9.2M191.0 441.5l9.2 9.2m0 -9.2l-9.2 9.2M191.8 441.9l9.2 9.2m0 -9.2l-9.2 9.2M192.6 442.1l9.2 9.2m0 -9.2l-9.2 9.2M193.4 441.7l9.2 9.2m0 -9.2l-9.2 9.2M194.2 441.5l9.2 9.2m0 -9.2l-9.2 9.2M195.0 441.9l9.2 9.2m0 -9.2l-9.2 9.2M195.8 441.6l9.2 9.2m0 -9.2l-9.2 9.2M196.6 441.5l9.2 9.2m0 -9.2l-9.2 9.2M197.4 441.4l9.2 9.2m0 -9.2l-9.2 9.2M198.2 441.9l9.2 9.2m0 -9.2l-9.2 9.2M199.0 441.9l9.2 9.2m0 -9.2l-9.2 9.2M199.8 441.8l9.2 9.2m0 -9.2l-9.2 9.2M200.6 441.7l9.2 9.2m0 -9.2l-9.2 9.2M201.4 441.7l9.2 9.2m0 -9.2l-9.2 9.2M202.2 441.5l9.2 9.2m0 -9.2l-9.2 9.2M203.0 442.1l9.2 9.2m0 -9.2l-9.2 9.2M203.8 441.6l9.2 9.2m0 -9.2l-9.2 9.2M204.6 441.8l9.2 9.2m0 -9.2l-9.2 9.2M205.4 442.0l9.2 9.2m0 -9.2l-9.2 9.2M206.2 442.0l9.2 9.2m0 -9.2l-9.2 9.2M207.0 441.7l9.2 9.2m0 -9.2l-9.2 9.2M207.8 441.5l9.2 9.2m0 -9.2l-9.2 9.2M208.6 441.7l9.2 9.2m0 -9.2l-9.2 9.2M209.4 441.4l9.2 9.2m0 -9.2l-9.2 9.2M210.2 442.0l9.2 9.2m0 -9.2l-9.2 9.2M211.0 441.6l9.2 9.2m0 -9.2l-9.2 9.2M211.8 442.0l9.2 9.2m0 -9.2l-9.2 9.2M212.6 441.5l9.2 9.2m0 -9.2l-9.2 9.2M213.4 441.6l9.2 9.2m0 -9.2l-9.2 9.2M214.2 441.5l9.2 9.2m0 -9.2l-9.2 9.2M215.0 441.6l9.2 9.2m0 -9.2l-9.2 9.2M215.8 441.4l9.2 9.2m0 -9.2l-9.2 9.2M216.6 441.3l9.2 9.2m0 -9.2l-9.2 9.2M217.4 441.9l9.2 9.2m0 -9.2l-9.2 9.2M218.2 441.5l9.2 9.2m0 -9.2l-9.2 9.2M219.0 441.5l9.2 9.2m0 -9.2l-9.2 9.2M219.8 441.5l9.2 9.2m0 -9.2l-9.2 9.2M220.6 441.7l9.2 9.2m0 -9.2l-9.2 9.2M221.4 441.6l9.2 9.2m0 -9.2l-9.2 9.2M222.2 441.8l9.2 9.2m0 -9.2l-9.2 9.2M223.0 441.8l9.2 9.2m0 -9.2l-9.2 9.2M223.8 441.6l9.2 9.2m0 -9.2l-9.2 9.2M224.6 442.0l9.2 9.2m0 -9.2l-9.2 9.2M225.4 442.0l9.2 9.2m0 -9.2l-9.2 9.2M226.2 441.3l9.2 9.2m0 -9.2l-9.2 9.2M227.0 442.0l9.2 9.2m0 -9.2l-9.2 9.2M227.8 442.0l9.2 9.2m0 -9.2l-9.2 9.2M228.6 441.9l9.2 9.2m0 -9.2l-9.2 9.2M229.4 441.4l9.2 9.2m0 -9.2l-9.2 9.2M230.2 442.0l9.2 9.2m0 -9.2l-9.2 9.2M231.0 441.8l9.2 9.2m0 -9.2l-9.2 9.2M231.8 441.3l9.2 9.2m0 -9.2l-9.2 9.2M232.6 441.3l9.2 9.2m0 -9.2l-9.2 9.2M233.4 442.1l9.2 9.2m0 -9.2l-9.2 9.2M234.2 441.8l9.2 9.2m0 -9.2l-9.2 9.2M235.0 441.5l9.2 9.2m0 -9.2l-9.2 9.2M235.8 441.4l9.2 9.2m0 -9.2l-9.2 9.2M236.6 441.4l9.2 9.2m0 -9.2l-9.2 9.2M237.4 441.5l9.2 9.2m0 -9.2l-9.2 9.2M238.2 441.9l9.2 9.2m0 -9.2l-9.2 9.2M239.0 441.6l9.2 9.2m0 -9.2l-9.2 9.2M239.8 441.4l9.2 9.2m0 -9.2l-9.2 9.2M240.6 442.0l9.2 9.2m0 -9.2l-9.2 9.2M241.4 441.9l9.2 9.2m0 -9.2l-9.2 9.2M242.2 441.4l9.2 9.2m0 -9.2l-9.2 9.2M243.0 442.0l9.2 9.2m0 -9.2l-9.2 9.2M243.8 441.8l9.2 9.2m0 -9.2l-9.2 9.2M244.6 441.9l9.2 9.2m0 -9.2l-9.2 9.2M245.4 441.8l9.2 9.2m0 -9.2l-9.2 9.2M246.2 442.0l9.2 9.2m0 -9.2l-9.2 9.2M247.0 441.9l9.2 9.2m0 -9.2l-9.2 9.2M247.8 442.0l9.2 9.2m0 -9.2l-9.2 9.2M248.6 441.5l9.2 9.2m0 -9.2l-9.2 9.2M249.4 441.9l9.2 9.2m0 -9.2l-9.2 9.2M250.2 441.7l9.2 9.2m0 -9.2l-9.2 9.2M251.0 441.9l9.2 9.2m0 -9.2l-9.2 9.2M251.8 441.7l9.2 9.2m0 -9.2l-9.2 9.2M252.6 442.0l9.2 9.2m0 -9.2l-9.2 9.2M253.4 441.7l9.2 9.2m0 -9.2l-9.2 9.2M254.2 441.5l9.2 9.2m0 -9.2l-9.2 9.2M255.0 441.5l9.2 9.2m0 -9.2l-9.2 9.2M255.8 441.4l9.2 9.2m0 -9.2l-9.2 9.2M256.6 441.7l9.2 9.2m0 -9.2l-9.2 9.2M257.4 441.3l9.2 9.2m0 -9.2l-9.2 9.2M258.2 441.7l9.2 9.2m0 -9.2l-9.2 9.2M259.0 441.4l9.2 9.2m0 -9.2l-9.2 9.2M259.8 441.7l9.2 9.2m0 -9.2l-9.2 9.2M260.6 441.7l9.2 9.2m0 -9.2l-9.2 9.2M261.4 441.7l9.2 9.2m0 -9.2l-9.2 9.2M262.2 442.0l9.2 9.2m0 -9.2l-9.2 9.2M263.0 441.3l9.2 9.2m0 -9.2l-9.2 9.2M263.8 442.0l9.2 9.2m0 -9.2l-9.2 9.2M264.6 441.7l9.2 9.2m0 -9.2l-9.2 9.2M265.4 441.8l9.2 9.2m0 -9.2l-9.2 9.2M266.2 441.8l9.2 9.2m0 -9.2l-9.2 9.2M267.0 442.0l9.2 9.2m0 -9.2l-9.2 9.2M267.8 441.6l9.2 9.2m0 -9.2l-9.2 9.2M268.6 441.6l9.2 9.2m0 -9.2l-9.2 9.2M269.4 442.1l9.2 9.2m0 -9.2l-9.2 9.2M270.2 441.4l9.2 9.2m0 -9.2l-9.2 9.2M271.0 441.8l9.2 9.2m0 -9.2l-9.2 9.2M271.8 441.8l9.2 9.2m0 -9.2l-9.2 9.2M272.6 441.3l9.2 9.2m0 -9.2l-9.2 9.2M273.4 441.8l9.2 9.2m0 -9.2l-9.2 9.2M274.2 441.8l9.2 9.2m0 -9.2l-9.2 9.2M275.0 442.0l9.2 9.2m0 -9.2l-9.2 9.2M275.8 441.6l9.2 9.2m0 -9.2l-9.2 9.2M276.6 442.1l9.2 9.2m0 -9.2l-9.2 9.2M277.4 441.7l9.2 9.2m0 -9.2l-9.2 9.2M278.2 441.7l9.2 9.2m0 -9.2l-9.2 9.2M279.0 442.0l9.2 9.2m0 -9.2l-9.2 9.2M279.8 441.3l9.2 9.2m0 -9.2l-9.2 9.2M280.6 441.9l9.2 9.2m0 -9.2l-9.2 9.2M281.4 441.8l9.2 9.2m0 -9.2l-9.2 9.2M282.2 441.6l9.2 9.2m0 -9.2l-9.2 9.2M283.0 442.0l9.2 9.2m0 -9.2l-9.2 9.2M283.8 441.6l9.2 9.2m0 -9.2l-9.2 9.2M284.6 441.7l9.2 9.2m0 -9.2l-9.2 9.2M285.4 441.7l9.2 9.2m0 -9.2l-9.2 9.2M286.2 441.9l9.2 9.2m0 -9.2l-9.2 9.2M287.0 441.5l9.2 9.2m0 -9.2l-9.2 9.2M287.8 441.6l9.2 9.2m0 -9.2l-9.2 9.2M288.6 441.6l9.2 9.2m0 -9.2l-9.2 9.2M289.4 441.7l9.2 9.2m0 -9.2l-9.2 9.2M290.2 442.0l9.2 9.2m0 -9.2l-9.2 9.2M291.0 441.5l9.2 9.2m0 -9.2l-9.2 9.2M291.8 442.0l9.2 9.2m0 -9.2l-9.2 9.2M292.6 441.6l9.2 9.2m0 -9.2l-9.2 9.2M293.4 441.7l9.2 9.2m0 -9.2l-9.2 9.2M294.2 441.5l9.2 9.2m0 -9.2l-9.2 9.2M295.0 441.7l9.2 9.2m0 -9.2l-9.2 9.2M295.8 442.1l9.2 9.2m0 -9.2l-9.2 9.2M296.6 441.8l9.2 9.2m0 -9.2l-9.2 9.2M297.4 441.9l9.2 9.2m0 -9.2l-9.2 9.2M298.2 441.6l9.2 9.2m0 -9.2l-9.2 9.2M299.0 441.6l9.2 9.2m0 -9.2l-9.2 9.2M299.8 441.5l9.2 9.2m0 -9.2l-9.2 9.2M300.6 441.8l9.2 9.2m0 -9.2l-9.2 9.2M301.4 441.8l9.2 9.2m0 -9.2l-9.2 9.2M302.2 441.9l9.2 9.2m0 -9.2l-9.2 9.2M303.0 441.3l9.2 9.2m0 -9.2l-9.2 9.2M303.8 441.9l9.2 9.2m0 -9.2l-9.2 9.2M304.6 442.0l9.2 9.2m0 -9.2l-9.2 9.2M305.4 441.7l9.2 9.2m0 -9.2l-9.2 9.2M306.2 441.3l9.2 9.2m0 -9.2l-9.2 9.2M307.0 441.5l9.2 9.2m0 -9.2l-9.2 9.2M307.8 441.3l9.2 9.2m0 -9.2l-9.2 9.2M308.6 441.5l9.2 9.2m0 -9.2l-9.2 9.2M309.4 442.0l9.2 9.2m0 -9.2l-9.2 9.2M310.2 441.8l9.2 9.2m0 -9.2l-9.2 9.2M311.0 441.8l9.2 9.2m0 -9.2l-9.2 9.2M311.8 441.9l9.2 9.2m0 -9.2l-9.2 9.2M312.6 442.0l9.2 9.2m0 -9.2l-9.2 9.2M313.4 441.8l9.2 9.2m0 -9.2l-9.2 9.2M314.2 441.8l9.2 9.2m0 -9.2l-9.2 9.2M315.0 441.8l9.2 9.2m0 -9.2l-9.2 9.2M315.8 441.9l9.2 9.2m0 -9.2l-9.2 9.2M316.6 441.8l9.2 9.2m0 -9.2l-9.2 9.2M317.4 441.8l9.2 9.2m0 -9.2l-9.2 9.2M318.2 441.5l9.2 9.2m0 -9.2l-9.2 9.2M319.0 441.8l9.2 9.2m0 -9.2l-9.2 9.2M319.8 441.7l9.2 9.2m0 -9.2l-9.2 9.2M320.6 441.9l9.2 9.2m0 -9.2l-9.2 9.2M321.4 441.4l9.2 9.2m0 -9.2l-9.2 9.2M322.2 441.4l9.2 9.2m0 -9.2l-9.2 9.2M323.0 441.3l9.2 9.2m0 -9.2l-9.2 9.2M323.8 441.9l9.2 9.2m0 -9.2l-9.2 9.2M324.6 442.0l9.2 9.2m0 -9.2l-9.2 9.2M325.4 441.8l9.2 9.2m0 -9.2l-9.2 9.2M326.2 441.6l9.2 9.2m0 -9.2l-9.2 9.2M327.0 442.0l9.2 9.2m0 -9.2l-9.2 9.2M327.8 441.9l9.2 9.2m0 -9.2l-9.2 9.2M328.6 441.7l9.2 9.2m0 -9.2l-9.2 9.2M329.4 441.5l9.2 9.2m0 -9.2l-9.2 9.2M330.2 441.5l9.2 9.2m0 -9.2l-9.2 9.2M331.0 441.6l9.2 9.2m0 -9.2l-9.2 9.2M331.8 441.6l9.2 9.2m0 -9.2l-9.2 9.2M332.6 441.6l9.2 9.2m0 -9.2l-9.2 9.2M333.4 441.8l9.2 9.2m0 -9.2l-9.2 9.2M334.2 442.0l9.2 9.2m0 -9.2l-9.2 9.2M335.0 441.3l9.2 9.2m0 -9.2l-9.2 9.2M335.8 441.8l9.2 9.2m0 -9.2l-9.2 9.2M336.6 441.3l9.2 9.2m0 -9.2l-9.2 9.2M337.4 441.4l9.2 9.2m0 -9.2l-9.2 9.2M338.2 441.9l9.2 9.2m0 -9.2l-9.2 9.2M339.0 441.8l9.2 9.2m0 -9.2l-9.2 9.2M339.8 442.0l9.2 9.2m0 -9.2l-9.2 9.2M340.6 441.7l9.2 9.2m0 -9.2l-9.2 9.2M343.3 441.7l9.2 9.2m0 -9.2l-9.2 9.2M347.7 441.7l9.2 9.2m0 -9.2l-9.2 9.2M351.7 441.7l9.2 9.2m0 -9.2l-9.2 9.2M356.0 441.7l9.2 9.2m0 -9.2l-9.2 9.2M359.7 441.7l9.2 9.2m0 -9.2l-9.2 9.2M362.3 441.7l9.2 9.2m0 -9.2l-9.2 9.2M365.7 441.7l9.2 9.2m0 -9.2l-9.2 9.2M368.7 441.7l9.2 9.2m0 -9.2l-9.2 9.2M373.4 441.7l9.2 9.2m0 -9.2l-9.2 9.2M376.1 441.7l9.2 9.2m0 -9.2l-9.2 9.2M379.6 441.7l9.2 9.2m0 -9.2l-9.2 9.2M382.9 441.7l9.2 9.2m0 -9.2l-9.2 9.2M386.5 441.7l9.2 9.2m0 -9.2l-9.2 9.2M391.5 441.7l9.2 9.2m0 -9.2l-9.2 9.2M329.5 433.3l9.2 9.2m0 -9.2l-9.2 9.2" stroke="#0f0" stroke-width="1.5" stroke-linecap="round" fill="none"/>
<path d="M389.9 446.3a7.0 7.0 0 1 0 14.0 0a7.0 7.0 0 1 0 -14.0 0M404.6 446.3a7.0 7.0 0 1 0 14.0 0a7.0 7.0 0 1 0 -14.0 0M444.1 446.3a7.0 7.0 0 1 0 14.0 0a7.0 7.0 0 1 0 -14.0 0M459.5 446.3a7.0 7.0 0 1 0 14.0 0a7.0 7.0 0 1 0 -14.0 0M471.3 446.3a7.0 7.0 0 1 0 14.0 0a7.0 7.0 0 1 0 -14.0 0M471.8 446.3a7.0 7.0 0 1 0 14.0 0a7.0 7.0 0 1 0 -14.0 0M482.3 446.3a7.0 7.0 0 1 0 14.0 0a7.0 7.0 0 1 0 -14.0 0M485.3 446.3a7.0 7.0 0 1 0 14.0 0a7.0 7.0 0 1 0 -14.0 0M491.9 446.3a7.0 7.0 0 1 0 14.0 0a7.0 7.0 0 1 0 -14.0 0M506.5 446.3a7.0 7.0 0 1 0 14.0 0a7.0 7.0 0 1 0 -14.0 0M510.3 446.3a7.0 7.0 0 1 0 14.0 0a7.0 7.0 0 1 0 -14.0 0M514.6 446.3a7.0 7.0 0 1 0 14.0 0a7.0 7.0 0 1 0 -14.0 0M351.9 446.3a7.0 7.0 0 1 0 14.0 0a7.0 7.0 0 1 0 -14.0 0M353.4 446.3a7.0 7.0 0 1 0 14.0 0a7.0 7.0 0 1 0 -14.0 0M358.5 446.3a7.0 7.0 0 1 0 14.0 0a7.0 7.0 0 1 0 -14.0 0M389.6 446.3a7.0 7.0 0 1 0 14.0 0a7.0 7.0 0 1 0 -14.0 0M390.8 446.3a7.0 7.0 0 1 0 14.0 0a7.0 7.0 0 1 0 -14.0 0M404.6 446.3a7.0 7.0 0 1 0 14.0 0a7.0 7.0 0 1 0 -14.0 0M625.3 446.3a7.0 7.0 0 1 0 14.0 0a7.0 7.0 0 1 0 -14.0 0M634.3 446.3a7.0 7.0 0 1 0 14.0 0a7.0 7.0 0 1 0 -14.0 0M671.3 446.3a7.0 7.0 0 1 0 14.0 0a7.0 7.0 0 1 0 -14.0 0M657.3 446.3a7.0 7.0 0 1 0 14.0 0a7.0 7.0 0 1 0 -14.0 0M540.3 446.3a7.0 7.0 0 1 0 14.0 0a7.0 7.0 0 1 0 -14.0 0M542.8 446.3a7.0 7.0 0 1 0 14.0 0a7.0 7.0 0 1 0 -14.0 0M545.3 446.3a7.0 7.0 0 1 0 14.0 0a7.0 7.0 0 1 0 -14.0 0M548.3 446.3a7.0 7.0 0 1 0 14.0 0a7.0 7.0 0 1 0 -14.0 0M551.3 446.3a7.0 7.0 0 1 0 14.0 0a7.0 7.0 0 1 0 -14.0 0M555.3 446.3a7.0 7.0 0 1 0 14.0 0a7.0 7.0 0 1 0 -14.0 0M559.3 446.3a7.0 7.0 0 1 0 14.0 0a7.0 7.0 0 1 0 -14.0 0M563.3 446.3a7.0 7.0 0 1 0 14.0 0a7.0 7.0 0 1 0 -14.0 0M565.4 446.3a7.0 7.0 0 1 0 14.0 0a7.0 7.0 0 1 0 -14.0 0M580.5 446.3a7.0 7.0 0 1 0 14.0 0a7.0 7.0 0 1 0 -14.0 0M577.3 446.3a7.0 7.0 0 1 0 14.0 0a7.0 7.0 0 1 0 -14.0 0M574.3 446.3a7.0 7.0 0 1 0 14.0 0a7.0 7.0 0 1 0 -14.0 0M570.1 446.3a7.0 7.0 0 1 0 14.0 0a7.0 7.0 0 1 0 -14.0 0M574.9 446.3a7.0 7.0 0 1 0 14.0 0a7.0 7.0 0 1 0 -14.0 0M575.6 446.3a7.0 7.0 0 1 0 14.0 0a7.0 7.0 0 1 0 -14.0 0M567.5 446.3a7.0 7.0 0 1 0 14.0 0a7.0 7.0 0 1 0 -14.0 0M579.0 446.3a7.0 7.0 0 1 0 14.0 0a7.0 7.0 0 1 0 -14.0 0M567.1 446.3a7.0 7.0 0 1 0 14.0 0a7.0 7.0 0 1 0 -14.0 0M574.7 446.3a7.0 7.0 0 1 0 14.0 0a7.0 7.0 0 1 0 -14.0 0M576.3 446.3a7.0 7.0 0 1 0 14.0 0a7.0 7.0 0 1 0 -14.0 0M566.4 446.3a7.0 7.0 0 1 0 14.0 0a7.0 7.0 0 1 0 -14.0 0M579.2 446.3a7.0 7.0 0 1 0 14.0 0a7.0 7.0 0 1 0 -14.0 0M578.2 446.3a7.0 7.0 0 1 0 14.0 0a7.0 7.0 0 1 0 -14.0 0M568.3 446.3a7.0 7.0 0 1 0 14.0 0a7.0 7.0 0 1 0 -14.0 0M567.1 446.3a7.0 7.0 0 1 0 14.0 0a7.0 7.0 0 1 0 -14.0 0M575.8 446.3a7.0 7.0 0 1 0 14.0 0a7.0 7.0 0 1 0 -14.0 0M573.4 446.3a7.0 7.0 0 1 0 14.0 0a7.0 7.0 0 1 0 -14.0 0M566.3 446.3a7.0 7.0 0 1 0 14.0 0a7.0 7.0 0 1 0 -14.0 0M575.8 446.3a7.0 7.0 0 1 0 14.0 0a7.0 7.0 0 1 0 -14.0 0M573.2 446.3a7.0 7.0 0 1 0 14.0 0a7.0 7.0 0 1 0 -14.0 0M588.3 446.3a7.0 7.0 0 1 0 14.0 0a7.0 7.0 0 1 0 -14.0 0M601.9 446.3a7.0 7.0 0 1 0 14.0 0a7.0 7.0 0 1 0 -14.0 0M589.6 446.3a7.0 7.0 0 1 0 14.0 0a7.0 7.0 0 1 0 -14.0 0M599.6 446.3a7.0 7.0 0 1 0 14.0 0a7.0 7.0 0 1 0 -14.0 0M595.4 446.3a7.0 7.0 0 1 0 14.0 0a7.0 7.0 0 1 0 -14.0 0M593.2 446.3a7.0 7.0 0 1 0 14.0 0a7.0 7.0 0 1 0 -14.0 0M588.2 446.3a7.0 7.0 0 1 0 14.0 0a7.0 7.0 0 1 0 -14.0 0M597.7 446.3a7.0 7.0 0 1 0 14.0 0a7.0 7.0 0 1 0 -14.0 0M589.5 446.3a7.0 7.0 0 1 0 14.0 0a7.0 7.0 0 1 0 -14.0 0M593.0 446.3a7.0 7.0 0 1 0 14.0 0a7.0 7.0 0 1 0 -14.0 0M588.2 446.3a7.0 7.0 0 1 0 14.0 0a7.0 7.0 0 1 0 -14.0 0M590.5 446.3a7.0 7.0 0 1 0 14.0 0a7.0 7.0 0 1 0 -14.0 0M602.7 446.3a7.0 7.0 0 1 0 14.0 0a7.0 7.0 0 1 0 -14.0 0M594.5 446.3a7.0 7.0 0 1 0 14.0 0a7.0 7.0 0 1 0 -14.0 0M594.0 446.3a7.0 7.0 0 1 0 14.0 0a7.0 7.0 0 1 0 -14.0 0M591.4 446.3a7.0 7.0 0 1 0 14.0 0a7.0 7.0 0 1 0 -14.0 0M585.8 446.3a7.0 7.0 0 1 0 14.0 0a7.0 7.0 0 1 0 -14.0 0M590.3 446.3a7.0 7.0 0 1 0 14.0 0a7.0 7.0 0 1 0 -14.0 0M587.1 446.3a7.0 7.0 0 1 0 14.0 0a7.0 7.0 0 1 0 -14.0 0M588.0 446.3a7.0 7.0 0 1 0 14.0 0a7.0 7.0 0 1 0 -14.0 0M596.6 446.3a7.0 7.0 0 1 0 14.0 0a7.0 7.0 0 1 0 -14.0 0M586.4 446.3a7.0 7.0 0 1 0 14.0 0a7.0 7.0 0 1 0 -14.0 0M585.2 446.3a7.0 7.0 0 1 0 14.0 0a7.0 7.0 0 1 0 -14.0 0M600.0 446.3a7.0 7.0 0 1 0 14.0 0a7.0 7.0 0 1 0 -14.0 0M592.2 446.3a7.0 7.0 0 1 0 14.0 0a7.0 7.0 0 1 0 -14.0 0M599.4 446.3a7.0 7.0 0 1 0 14.0 0a7.0 7.0 0 1 0 -14.0 0M590.4 446.3a7.0 7.0 0 1 0 14.0 0a7.0 7.0 0 1 0 -14.0 0M590.8 446.3a7.0 7.0 0 1 0 14.0 0a7.0 7.0 0 1 0 -14.0 0M587.5 446.3a7.0 7.0 0 1 0 14.0 0a7.0 7.0 0 1 0 -14.0 0M593.4 446.3a7.0 7.0 0 1 0 14.0 0a7.0 7.0 0 1 0 -14.0 0M592.4 446.3a7.0 7.0 0 1 0 14.0 0a7.0 7.0 0 1 0 -14.0 0M597.4 446.3a7.0 7.0 0 1 0 14.0 0a7.0 7.0 0 1 0 -14.0 0M601.3 446.3a7.0 7.0 0 1 0 14.0 0a7.0 7.0 0 1 0 -14.0 0M590.7 446.3a7.0 7.0 0 1 0 14.0 0a7.0 7.0 0 1 0 -14.0 0M595.5 446.3a7.0 7.0 0 1 0 14.0 0a7.0 7.0 0 1 0 -14.0 0M600.7 446.3a7.0 7.0 0 1 0 14.0 0a7.0 7.0 0 1 0 -14.0 0M618.7 446.3a7.0 7.0 0 1 0 14.0 0a7.0 7.0 0 1 0 -14.0 0M611.4 446.3a7.0 7.0 0 1 0 14.0 0a7.0 7.0 0 1 0 -14.0 0M614.8 446.3a7.0 7.0 0 1 0 14.0 0a7.0 7.0 0 1 0 -14.0 0M620.3 446.3a7.0 7.0 0 1 0 14.0 0a7.0 7.0 0 1 0 -14.0 0M615.0 446.3a7.0 7.0 0 1 0 14.0 0a7.0 7.0 0 1 0 -14.0 0M608.6 446.3a7.0 7.0 0 1 0 14.0 0a7.0 7.0 0 1 0 -14.0 0M612.9 446.3a7.0 7.0 0 1 0 14.0 0a7.0 7.0 0 1 0 -14.0 0M606.6 446.3a7.0 7.0 0 1 0 14.0 0a7.0 7.0 0 1 0 -14.0 0M614.1 446.3a7.0 7.0 0 1 0 14.0 0a7.0 7.0 0 1 0 -14.0 0M612.2 446.3a7.0 7.0 0 1 0 14.0 0a7.0 7.0 0 1 0 -14.0 0M612.6 446.3a7.0 7.0 0 1 0 14.0 0a7.0 7.0 0 1 0 -14.0 0M607.1 446.3a7.0 7.0 0 1 0 14.0 0a7.0 7.0 0 1 0 -14.0 0M611.8 446.3a7.0 7.0 0 1 0 14.0 0a7.0 7.0 0 1 0 -14.0 0M630.6 446.3a7.0 7.0 0 1 0 14.0 0a7.0 7.0 0 1 0 -14.0 0M629.8 446.3a7.0 7.0 0 1 0 14.0 0a7.0 7.0 0 1 0 -14.0 0M607.3 446.3a7.0 7.0 0 1 0 14.0 0a7.0 7.0 0 1 0 -14.0 0M604.2 446.3a7.0 7.0 0 1 0 14.0 0a7.0 7.0 0 1 0 -14.0 0M623.2 446.3a7.0 7.0 0 1 0 14.0 0a7.0 7.0 0 1 0 -14.0 0M615.7 446.3a7.0 7.0 0 1 0 14.0 0a7.0 7.0 0 1 0 -14.0 0M624.3 446.3a7.0 7.0 0 1 0 14.0 0a7.0 7.0 0 1 0 -14.0 0M628.7 446.3a7.0 7.0 0 1 0 14.0 0a7.0 7.0 0 1 0 -14.0 0M622.2 446.3a7.0 7.0 0 1 0 14.0 0a7.0 7.0 0 1 0 -14.0 0M606.8 446.3a7.0 7.0 0 1 0 14.0 0a7.0 7.0 0 1 0 -14.0 0M625.3 446.3a7.0 7.0 0 1 0 14.0 0a7.0 7.0 0 1 0 -14.0 0M604.5 446.3a7.0 7.0 0 1 0 14.0 0a7.0 7.0 0 1 0 -14.0 0M608.2 446.3a7.0 7.0 0 1 0 14.0 0a7.0 7.0 0 1 0 -14.0 0M612.4 446.3a7.0 7.0 0 1 0 14.0 0a7.0 7.0 0 1 0 -14.0 0M604.5 446.3a7.0 7.0 0 1 0 14.0 0a7.0 7.0 0 1 0 -14.0 0M622.4 446.3a7.0 7.0 0 1 0 14.0 0a7.0 7.0 0 1 0 -14.0 0M628.5 446.3a7.0 7.0 0 1 0 14.0 0a7.0 7.0 0 1 0 -14.0 0M624.8 446.3a7.0 7.0 0 1 0 14.0 0a7.0 7.0 0 1 0 -14.0 0M616.3 446.3a7.0 7.0 0 1 0 14.0 0a7.0 7.0 0 1 0 -14.0 0M613.8 446.3a7.0 7.0 0 1 0 14.0 0a7.0 7.0 0 1 0 -14.0 0M628.3 446.3a7.0 7.0 0 1 0 14.0 0a7.0 7.0 0 1 0 -14.0 0M611.9 446.3a7.0 7.0 0 1 0 14.0 0a7.0 7.0 0 1 0 -14.0 0M628.9 446.3a7.0 7.0 0 1 0 14.0 0a7.0 7.0 0 1 0 -14.0 0M604.7 446.3a7.0 7.0 0 1 0 14.0 0a7.0 7.0 0 1 0 -14.0 0M606.6 446.3a7.0 7.0 0 1 0 14.0 0a7.0 7.0 0 1 0 -14.0 0M609.6 446.3a7.0 7.0 0 1 0 14.0 0a7.0 7.0 0 1 0 -14.0 0M625.8 446.3a7.0 7.0 0 1 0 14.0 0a7.0 7.0 0 1 0 -14.0 0M624.1 446.3a7.0 7.0 0 1 0 14.0 0a7.0 7.0 0 1 0 -14.0 0M625.7 446.3a7.0 7.0 0 1 0 14.0 0a7.0 7.0 0 1 0 -14.0 0M611.7 446.3a7.0 7.0 0 1 0 14.0 0a7.0 7.0 0 1 0 -14.0 0M631.7 446.3a7.0 7.0 0 1 0 14.0 0a7.0 7.0 0 1 0 -14.0 0M631.2 446.3a7.0 7.0 0 1 0 14.0 0a7.0 7.0 0 1 0 -14.0 0M625.5 446.3a7.0 7.0 0 1 0 14.0 0a7.0 7.0 0 1 0 -14.0 0M622.1 446.3a7.0 7.0 0 1 0 14.0 0a7.0 7.0 0 1 0 -14.0 0M604.9 446.3a7.0 7.0 0 1 0 14.0 0a7.0 7.0 0 1 0 -14.0 0M616.2 446.3a7.0 7.0 0 1 0 14.0 0a7.0 7.0 0 1 0 -14.0 0M631.1 446.3a7.0 7.0 0 1 0 14.0 0a7.0 7.0 0 1 0 -14.0 0M626.2 446.3a7.0 7.0 0 1 0 14.0 0a7.0 7.0 0 1 0 -14.0 0M624.4 446.3a7.0 7.0 0 1 0 14.0 0a7.0 7.0 0 1 0 -14.0 0M611.1 446.3a7.0 7.0 0 1 0 14.0 0a7.0 7.0 0 1 0 -14.0 0M632.4 446.3a7.0 7.0 0 1 0 14.0 0a7.0 7.0 0 1 0 -14.0 0M619.6 446.3a7.0 7.0 0 1 0 14.0 0a7.0 7.0 0 1 0 -14.0 0M605.1 446.3a7.0 7.0 0 1 0 14.0 0a7.0 7.0 0 1 0 -14.0 0M615.6 446.3a7.0 7.0 0 1 0 14.0 0a7.0 7.0 0 1 0 -14.0 0M612.6 446.3a7.0 7.0 0 1 0 14.0 0a7.0 7.0 0 1 0 -14.0 0M624.5 446.3a7.0 7.0 0 1 0 14.0 0a7.0 7.0 0 1 0 -14.0 0M610.4 446.3a7.0 7.0 0 1 0 14.0 0a7.0 7.0 0 1 0 -14.0 0M618.8 446.3a7.0 7.0 0 1 0 14.0 0a7.0 7.0 0 1 0 -14.0 0M631.4 446.3a7.0 7.0 0 1 0 14.0 0a7.0 7.0 0 1 0 -14.0 0M612.3 446.3a7.0 7.0 0 1 0 14.0 0a7.0 7.0 0 1 0 -14.0 0M607.6 446.3a7.0 7.0 0 1 0 14.0 0a7.0 7.0 0 1 0 -14.0 0M613.3 446.3a7.0 7.0 0 1 0 14.0 0a7.0 7.0 0 1 0 -14.0 0M619.7 446.3a7.0 7.0 0 1 0 14.0 0a7.0 7.0 0 1 0 -14.0 0M608.4 446.3a7.0 7.0 0 1 0 14.0 0a7.0 7.0 0 1 0 -14.0 0M621.3 446.3a7.0 7.0 0 1 0 14.0 0a7.0 7.0 0 1 0 -14.0 0M663.9 446.3a7.0 7.0 0 1 0 14.0 0a7.0 7.0 0 1 0 -14.0 0M637.9 446.3a7.0 7.0 0 1 0 14.0 0a7.0 7.0 0 1 0 -14.0 0M647.7 446.3a7.0 7.0 0 1 0 14.0 0a7.0 7.0 0 1 0 -14.0 0M635.7 446.3a7.0 7.0 0 1 0 14.0 0a7.0 7.0 0 1 0 -14.0 0M641.2 446.3a7.0 7.0 0 1 0 14.0 0a7.0 7.0 0 1 0 -14.0 0M651.2 446.3a7.0 7.0 0 1 0 14.0 0a7.0 7.0 0 1 0 -14.0 0M646.3 446.3a7.0 7.0 0 1 0 14.0 0a7.0 7.0 0 1 0 -14.0 0M647.8 446.3a7.0 7.0 0 1 0 14.0 0a7.0 7.0 0 1 0 -14.0 0M636.2 446.3a7.0 7.0 0 1 0 14.0 0a7.0 7.0 0 1 0 -14.0 0M673.0 446.3a7.0 7.0 0 1 0 14.0 0a7.0 7.0 0 1 0 -14.0 0M636.7 446.3a7.0 7.0 0 1 0 14.0 0a7.0 7.0 0 1 0 -14.0 0M672.5 446.3a7.0 7.0 0 1 0 14.0 0a7.0 7.0 0 1 0 -14.0 0M637.7 446.3a7.0 7.0 0 1 0 14.0 0a7.0 7.0 0 1 0 -14.0 0M650.7 446.3a7.0 7.0 0 1 0 14.0 0a7.0 7.0 0 1 0 -14.0 0M655.0 446.3a7.0 7.0 0 1 0 14.0 0a7.0 7.0 0 1 0 -14.0 0M670.1 446.3a7.0 7.0 0 1 0 14.0 0a7.0 7.0 0 1 0 -14.0 0M658.4 446.3a7.0 7.0 0 1 0 14.0 0a7.0 7.0 0 1 0 -14.0 0M659.4 446.3a7.0 7.0 0 1 0 14.0 0a7.0 7.0 0 1 0 -14.0 0M643.1 446.3a7.0 7.0 0 1 0 14.0 0a7.0 7.0 0 1 0 -14.0 0M634.4 446.3a7.0 7.0 0 1 0 14.0 0a7.0 7.0 0 1 0 -14.0 0M666.9 446.3a7.0 7.0 0 1 0 14.0 0a7.0 7.0 0 1 0 -14.0 0M640.7 446.3a7.0 7.0 0 1 0 14.0 0a7.0 7.0 0 1 0 -14.0 0M667.1 446.3a7.0 7.0 0 1 0 14.0 0a7.0 7.0 0 1 0 -14.0 0M640.0 446.3a7.0 7.0 0 1 0 14.0 0a7.0 7.0 0 1 0 -14.0 0M666.5 446.3a7.0 7.0 0 1 0 14.0 0a7.0 7.0 0 1 0 -14.0 0M646.4 446.3a7.0 7.0 0 1 0 14.0 0a7.0 7.0 0 1 0 -14.0 0M666.3 446.3a7.0 7.0 0 1 0 14.0 0a7.0 7.0 0 1 0 -14.0 0M648.0 446.3a7.0 7.0 0 1 0 14.0 0a7.0 7.0 0 1 0 -14.0 0M648.1 446.3a7.0 7.0 0 1 0 14.0 0a7.0 7.0 0 1 0 -14.0 0M642.9 446.3a7.0 7.0 0 1 0 14.0 0a7.0 7.0 0 1 0 -14.0 0M656.0 446.3a7.0 7.0 0 1 0 14.0 0a7.0 7.0 0 1 0 -14.0 0M666.1 446.3a7.0 7.0 0 1 0 14.0 0a7.0 7.0 0 1 0 -14.0 0M669.5 446.3a7.0 7.0 0 1 0 14.0 0a7.0 7.0 0 1 0 -14.0 0M653.1 446.3a7.0 7.0 0 1 0 14.0 0a7.0 7.0 0 1 0 -14.0 0M639.6 446.3a7.0 7.0 0 1 0 14.0 0a7.0 7.0 0 1 0 -14.0 0M656.5 446.3a7.0 7.0 0 1 0 14.0 0a7.0 7.0 0 1 0 -14.0 0M660.8 446.3a7.0 7.0 0 1 0 14.0 0a7.0 7.0 0 1 0 -14.0 0M651.0 446.3a7.0 7.0 0 1 0 14.0 0a7.0 7.0 0 1 0 -14.0 0M636.9 446.3a7.0 7.0 0 1 0 14.0 0a7.0 7.0 0 1 0 -14.0 0M650.9 446.3a7.0 7.0 0 1 0 14.0 0a7.0 7.0 0 1 0 -14.0 0M662.2 446.3a7.0 7.0 0 1 0 14.0 0a7.0 7.0 0 1 0 -14.0 0M666.9 446.3a7.0 7.0 0 1 0 14.0 0a7.0 7.0 0 1 0 -14.0 0M664.8 446.3a7.0 7.0 0 1 0 14.0 0a7.0 7.0 0 1 0 -14.0 0M644.6 446.3a7.0 7.0 0 1 0 14.0 0a7.0 7.0 0 1 0 -14.0 0M653.9 446.3a7.0 7.0 0 1 0 14.0 0a7.0 7.0 0 1 0 -14.0 0M646.8 446.3a7.0 7.0 0 1 0 14.0 0a7.0 7.0 0 1 0 -14.0 0M659.9 446.3a7.0 7.0 0 1 0 14.0 0a7.0 7.0 0 1 0 -14.0 0M669.5 446.3a7.0 7.0 0 1 0 14.0 0a7.0 7.0 0 1 0 -14.0 0M645.1 446.3a7.0 7.0 0 1 0 14.0 0a7.0 7.0 0 1 0 -14.0 0M655.8 446.3a7.0 7.0 0 1 0 14.0 0a7.0 7.0 0 1 0 -14.0 0M641.1 446.3a7.0 7.0 0 1 0 14.0 0a7.0 7.0 0 1 0 -14.0 0M646.2 446.3a7.0 7.0 0 1 0 14.0 0a7.0 7.0 0 1 0 -14.0 0M672.2 446.3a7.0 7.0 0 1 0 14.0 0a7.0 7.0 0 1 0 -14.0 0M667.9 446.3a7.0 7.0 0 1 0 14.0 0a7.0 7.0 0 1 0 -14.0 0M671.8 446.3a7.0 7.0 0 1 0 14.0 0a7.0 7.0 0 1 0 -14.0 0M665.7 446.3a7.0 7.0 0 1 0 14.0 0a7.0 7.0 0 1 0 -14.0 0M660.4 446.3a7.0 7.0 0 1 0 14.0 0a7.0 7.0 0 1 0 -14.0 0M645.2 446.3a7.0 7.0 0 1 0 14.0 0a7.0 7.0 0 1 0 -14.0 0M671.4 446.3a7.0 7.0 0 1 0 14.0 0a7.0 7.0 0 1 0 -14.0 0M659.2 446.3a7.0 7.0 0 1 0 14.0 0a7.0 7.0 0 1 0 -14.0 0M647.0 446.3a7.0 7.0 0 1 0 14.0 0a7.0 7.0 0 1 0 -14.0 0M634.4 446.3a7.0 7.0 0 1 0 14.0 0a7.0 7.0 0 1 0 -14.0 0M660.4 446.3a7.0 7.0 0 1 0 14.0 0a7.0 7.0 0 1 0 -14.0 0M636.7 446.3a7.0 7.0 0 1 0 14.0 0a7.0 7.0 0 1 0 -14.0 0M648.2 446.3a7.0 7.0 0 1 0 14.0 0a7.0 7.0 0 1 0 -14.0 0M650.0 446.3a7.0 7.0 0 1 0 14.0 0a7.0 7.0 0 1 0 -14.0 0M655.9 446.3a7.0 7.0 0 1 0 14.0 0a7.0 7.0 0 1 0 -14.0 0M637.9 446.3a7.0 7.0 0 1 0 14.0 0a7.0 7.0 0 1 0 -14.0 0M668.9 446.3a7.0 7.0 0 1 0 14.0 0a7.0 7.0 0 1 0 -14.0 0M637.8 446.3a7.0 7.0 0 1 0 14.0 0a7.0 7.0 0 1 0 -14.0 0M643.4 446.3a7.0 7.0 0 1 0 14.0 0a7.0 7.0 0 1 0 -14.0 0M654.5 446.3a7.0 7.0 0 1 0 14.0 0a7.0 7.0 0 1 0 -14.0 0M652.9 446.3a7.0 7.0 0 1 0 14.0 0a7.0 7.0 0 1 0 -14.0 0M642.4 446.3a7.0 7.0 0 1 0 14.0 0a7.0 7.0 0 1 0 -14.0 0M637.8 446.3a7.0 7.0 0 1 0 14.0 0a7.0 7.0 0 1 0 -14.0 0M656.8 446.3a7.0 7.0 0 1 0 14.0 0a7.0 7.0 0 1 0 -14.0 0M649.6 446.3a7.0 7.0 0 1 0 14.0 0a7.0 7.0 0 1 0 -14.0 0M650.9 446.3a7.0 7.0 0 1 0 14.0 0a7.0 7.0 0 1 0 -14.0 0M655.3 446.3a7.0 7.0 0 1 0 14.0 0a7.0 7.0 0 1 0 -14.0 0M663.6 446.3a7.0 7.0 0 1 0 14.0 0a7.0 7.0 0 1 0 -14.0 0M672.9 446.3a7.0 7.0 0 1 0 14.0 0a7.0 7.0 0 1 0 -14.0 0M637.4 446.3a7.0 7.0 0 1 0 14.0 0a7.0 7.0 0 1 0 -14.0 0M649.0 446.3a7.0 7.0 0 1 0 14.0 0a7.0 7.0 0 1 0 -14.0 0M671.7 446.3a7.0 7.0 0 1 0 14.0 0a7.0 7.0 0 1 0 -14.0 0M664.3 446.3a7.0 7.0 0 1 0 14.0 0a7.0 7.0 0 1 0 -14.0 0M664.3 446.3a7.0 7.0 0 1 0 14.0 0a7.0 7.0 0 1 0 -14.0 0M642.8 446.3a7.0 7.0 0 1 0 14.0 0a7.0 7.0 0 1 0 -14.0 0M633.9 446.3a7.0 7.0 0 1 0 14.0 0a7.0 7.0 0 1 0 -14.0 0M641.8 446.3a7.0 7.0 0 1 0 14.0 0a7.0 7.0 0 1 0 -14.0 0M661.6 446.3a7.0 7.0 0 1 0 14.0 0a7.0 7.0 0 1 0 -14.0 0M687.5 446.3a7.0 7.0 0 1 0 14.0 0a7.0 7.0 0 1 0 -14.0 0M687.3 446.3a7.0 7.0 0 1 0 14.0 0a7.0 7.0 0 1 0 -14.0 0M688.0 446.3a7.0 7.0 0 1 0 14.0 0a7.0 7.0 0 1 0 -14.0 0M676.0 446.3a7.0 7.0 0 1 0 14.0 0a7.0 7.0 0 1 0 -14.0 0M678.8 446.3a7.0 7.0 0 1 0 14.0 0a7.0 7.0 0 1 0 -14.0 0M684.2 446.3a7.0 7.0 0 1 0 14.0 0a7.0 7.0 0 1 0 -14.0 0M675.3 446.3a7.0 7.0 0 1 0 14.0 0a7.0 7.0 0 1 0 -14.0 0M685.1 446.3a7.0 7.0 0 1 0 14.0 0a7.0 7.0 0 1 0 -14.0 0M684.8 446.3a7.0 7.0 0 1 0 14.0 0a7.0 7.0 0 1 0 -14.0 0M683.0 446.3a7.0 7.0 0 1 0 14.0 0a7.0 7.0 0 1 0 -14.0 0M682.1 446.3a7.0 7.0 0 1 0 14.0 0a7.0 7.0 0 1 0 -14.0 0M675.1 446.3a7.0 7.0 0 1 0 14.0 0a7.0 7.0 0 1 0 -14.0 0M684.1 446.3a7.0 7.0 0 1 0 14.0 0a7.0 7.0 0 1 0 -14.0 0M676.4 446.3a7.0 7.0 0 1 0 14.0 0a7.0 7.0 0 1 0 -14.0 0M686.7 446.3a7.0 7.0 0 1 0 14.0 0a7.0 7.0 0 1 0 -14.0 0M675.1 446.3a7.0 7.0 0 1 0 14.0 0a7.0 7.0 0 1 0 -14.0 0M675.1 446.3a7.0 7.0 0 1 0 14.0 0a7.0 7.0 0 1 0 -14.0 0M676.3 446.3a7.0 7.0 0 1 0 14.0 0a7.0 7.0 0 1 0 -14.0 0M677.9 446.3a7.0 7.0 0 1 0 14.0 0a7.0 7.0 0 1 0 -14.0 0M679.4 446.3a7.0 7.0 0 1 0 14.0 0a7.0 7.0 0 1 0 -14.0 0M687.3 446.3a7.0 7.0 0 1 0 14.0 0a7.0 7.0 0 1 0 -14.0 0M684.3 446.3a7.0 7.0 0 1 0 14.0 0a7.0 7.0 0 1 0 -14.0 0M657.5 438.6a7.0 7.0 0 1 0 14.0 0a7.0 7.0 0 1 0 -14.0 0" stroke="#0f0" stroke-width="1.5" fill="none"/>
</svg></body></html>
